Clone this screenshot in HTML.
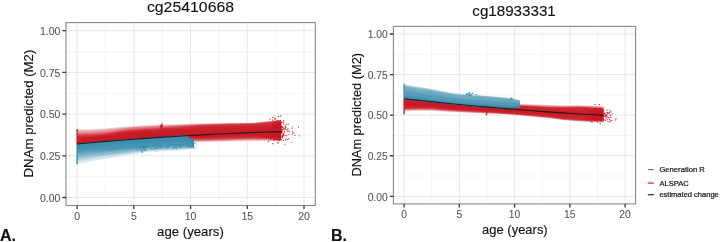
<!DOCTYPE html>
<html><head><meta charset="utf-8"><style>
html,body{margin:0;padding:0;background:#fff;}
body{width:720px;height:242px;overflow:hidden;}
svg{display:block;filter:blur(0.3px);}
text{font-family:"Liberation Sans",sans-serif;}
.tk{fill:#555;stroke:#555;stroke-width:0.08px;}
.ti{fill:#111;stroke:#111;stroke-width:0.12px;}
.lg{fill:#111;stroke:#111;stroke-width:0.2px;}
</style></head><body>
<svg width="720" height="242" viewBox="0 0 720 242">
<rect x="66" y="22.6" width="249.3" height="182.9" fill="#fff"/>
<path d="M105.46 22.6V205.5M162.19 22.6V205.5M218.91 22.6V205.5M275.64 22.6V205.5M66 176.65H315.3M66 134.95H315.3M66 93.25H315.3M66 51.55H315.3" stroke="#f2f2f2" stroke-width="0.8" fill="none"/>
<path d="M77.1 22.6V205.5M133.82 22.6V205.5M190.55 22.6V205.5M247.28 22.6V205.5M304 22.6V205.5M66 197.5H315.3M66 155.8H315.3M66 114.1H315.3M66 72.4H315.3M66 30.7H315.3" stroke="#e8e8e8" stroke-width="1" fill="none"/>
<rect x="393.4" y="26.4" width="242.2" height="177.5" fill="#fff"/>
<path d="M431.73 26.4V203.9M486.98 26.4V203.9M542.23 26.4V203.9M597.48 26.4V203.9M393.4 176.01H635.6M393.4 135.44H635.6M393.4 94.86H635.6M393.4 54.29H635.6" stroke="#f2f2f2" stroke-width="0.8" fill="none"/>
<path d="M404.1 26.4V203.9M459.35 26.4V203.9M514.6 26.4V203.9M569.85 26.4V203.9M625.1 26.4V203.9M393.4 196.3H635.6M393.4 155.73H635.6M393.4 115.15H635.6M393.4 74.58H635.6M393.4 34H635.6" stroke="#e8e8e8" stroke-width="1" fill="none"/>
<path d="M77.6 129.35 L91.16 128.99 L104.72 128.3 L118.28 127 L131.84 125.89 L145.4 125.03 L158.96 124.51 L172.52 124.15 L186.08 123.8 L199.64 123.49 L213.2 123.17 L226.76 122.86 L240.32 122.67 L253.88 122.49 L267.44 120.91 L281 119.55 L281 120.78 L267.44 122.14 L253.88 123.68 L240.32 123.87 L226.76 124.07 L213.2 124.41 L199.64 124.75 L186.08 125.18 L172.52 125.63 L158.96 126.08 L145.4 126.65 L131.84 127.53 L118.28 128.74 L104.72 130.17 L91.16 130.91 L77.6 131.28Z" fill="#f9e7e8"/>
<path d="M77.6 143.52 L91.16 142.3 L104.72 141.12 L118.28 140.01 L131.84 138.94 L145.4 137.94 L158.96 137.8 L172.52 138.79 L186.08 140.33 L199.64 140.5 L213.2 140.27 L226.76 140.04 L240.32 139.79 L253.88 139.54 L267.44 139.45 L281 140.05 L281 141.45 L267.44 141 L253.88 141.3 L240.32 141.53 L226.76 141.75 L213.2 141.93 L199.64 142.11 L186.08 141.89 L172.52 140.03 L158.96 138.8 L145.4 138.84 L131.84 139.84 L118.28 140.91 L104.72 142.02 L91.16 143.2 L77.6 144.42Z" fill="#f6d7d9"/>
<path d="M77.6 130.38 L91.16 130.01 L104.72 129.27 L118.28 127.84 L131.84 126.63 L145.4 125.75 L158.96 125.18 L172.52 124.73 L186.08 124.28 L199.64 123.85 L213.2 123.51 L226.76 123.17 L240.32 122.97 L253.88 122.78 L267.44 121.24 L281 119.88 L281 121.12 L267.44 122.47 L253.88 123.97 L240.32 124.18 L226.76 124.39 L213.2 124.75 L199.64 125.11 L186.08 125.66 L172.52 126.21 L158.96 126.76 L145.4 127.38 L131.84 128.27 L118.28 129.59 L104.72 131.14 L91.16 131.93 L77.6 132.32Z" fill="#f4cfd1"/>
<path d="M77.6 131.42 L91.16 131.03 L104.72 130.24 L118.28 128.69 L131.84 127.37 L145.4 126.48 L158.96 125.86 L172.52 125.31 L186.08 124.76 L199.64 124.21 L213.2 123.85 L226.76 123.49 L240.32 123.28 L253.88 123.07 L267.44 121.57 L281 120.22 L281 121.45 L267.44 122.81 L253.88 124.25 L240.32 124.48 L226.76 124.71 L213.2 125.09 L199.64 125.48 L186.08 126.14 L172.52 126.79 L158.96 127.43 L145.4 128.1 L131.84 129 L118.28 130.43 L104.72 132.11 L91.16 132.96 L77.6 133.35Z" fill="#edb2b5"/>
<path d="M77.6 143.52 L91.16 142.3 L104.72 141.12 L118.28 140.01 L131.84 138.94 L145.4 137.94 L158.96 137.7 L172.52 138.45 L186.08 139.68 L199.64 139.79 L213.2 139.51 L226.76 139.22 L240.32 138.95 L253.88 138.68 L267.44 138.8 L281 139.55 L281 140.95 L267.44 140.35 L253.88 140.44 L240.32 140.69 L226.76 140.94 L213.2 141.17 L199.64 141.4 L186.08 141.23 L172.52 139.69 L158.96 138.7 L145.4 138.84 L131.84 139.84 L118.28 140.91 L104.72 142.02 L91.16 143.2 L77.6 144.42Z" fill="#ecadb1"/>
<path d="M77.6 132.45 L91.16 132.06 L104.72 131.21 L118.28 129.53 L131.84 128.1 L145.4 127.2 L158.96 126.53 L172.52 125.89 L186.08 125.24 L199.64 124.58 L213.2 124.19 L226.76 123.81 L240.32 123.58 L253.88 123.35 L267.44 121.91 L281 120.55 L281 121.78 L267.44 123.14 L253.88 124.54 L240.32 124.78 L226.76 125.02 L213.2 125.43 L199.64 125.84 L186.08 126.62 L172.52 127.37 L158.96 128.11 L145.4 128.82 L131.84 129.74 L118.28 131.28 L104.72 133.09 L91.16 133.98 L77.6 134.38Z" fill="#e59197"/>
<path d="M77.6 143.52 L91.16 142.3 L104.72 141.12 L118.28 140.01 L131.84 138.94 L145.4 137.94 L158.96 137.6 L172.52 138.1 L186.08 139.02 L199.64 139.08 L213.2 138.75 L226.76 138.41 L240.32 138.11 L253.88 137.82 L267.44 138.15 L281 139.05 L281 140.45 L267.44 139.7 L253.88 139.58 L240.32 139.85 L226.76 140.12 L213.2 140.41 L199.64 140.69 L186.08 140.58 L172.52 139.35 L158.96 138.6 L145.4 138.84 L131.84 139.84 L118.28 140.91 L104.72 142.02 L91.16 143.2 L77.6 144.42Z" fill="#e3868b"/>
<path d="M77.6 133.48 L91.16 133.08 L104.72 132.19 L118.28 130.38 L131.84 128.84 L145.4 127.92 L158.96 127.21 L172.52 126.47 L186.08 125.72 L199.64 124.94 L213.2 124.53 L226.76 124.12 L240.32 123.88 L253.88 123.64 L267.44 122.24 L281 120.88 L281 122.12 L267.44 123.47 L253.88 124.83 L240.32 125.08 L226.76 125.34 L213.2 125.77 L199.64 126.2 L186.08 127.1 L172.52 127.95 L158.96 128.78 L145.4 129.54 L131.84 130.47 L118.28 132.13 L104.72 134.06 L91.16 135 L77.6 135.42Z" fill="#de7379"/>
<path d="M77.6 143.52 L91.16 142.3 L104.72 141.12 L118.28 140.01 L131.84 138.94 L145.4 137.94 L158.96 137.5 L172.52 137.76 L186.08 138.36 L199.64 138.37 L213.2 137.98 L226.76 137.59 L240.32 137.27 L253.88 136.96 L267.44 137.5 L281 138.55 L281 139.95 L267.44 139.05 L253.88 138.72 L240.32 139.01 L226.76 139.31 L213.2 139.64 L199.64 139.98 L186.08 139.92 L172.52 139 L158.96 138.5 L145.4 138.84 L131.84 139.84 L118.28 140.91 L104.72 142.02 L91.16 143.2 L77.6 144.42Z" fill="#d95e66"/>
<path d="M77.6 134.52 L91.16 134.1 L104.72 133.16 L118.28 131.23 L131.84 129.57 L145.4 128.64 L158.96 127.88 L172.52 127.05 L186.08 126.2 L199.64 125.3 L213.2 124.87 L226.76 124.44 L240.32 124.18 L253.88 123.93 L267.44 122.57 L281 121.22 L281 122.45 L267.44 123.81 L253.88 125.11 L240.32 125.38 L226.76 125.66 L213.2 126.11 L199.64 126.56 L186.08 127.58 L172.52 128.53 L158.96 129.45 L145.4 130.26 L131.84 131.21 L118.28 132.97 L104.72 135.03 L91.16 136.03 L77.6 136.45Z" fill="#d7545c"/>
<path d="M77.6 143.52 L91.16 142.3 L104.72 141.12 L118.28 140.01 L131.84 138.94 L145.4 137.94 L158.96 137.4 L172.52 137.42 L186.08 137.71 L199.64 137.66 L213.2 137.22 L226.76 136.77 L240.32 136.43 L253.88 136.09 L267.44 136.84 L281 138.05 L281 139.45 L267.44 138.4 L253.88 137.86 L240.32 138.17 L226.76 138.49 L213.2 138.88 L199.64 139.27 L186.08 139.26 L172.52 138.66 L158.96 138.4 L145.4 138.84 L131.84 139.84 L118.28 140.91 L104.72 142.02 L91.16 143.2 L77.6 144.42Z" fill="#d3434c"/>
<path d="M77.6 135.55 L91.16 135.13 L104.72 134.13 L118.28 132.07 L131.84 130.31 L145.4 129.36 L158.96 128.55 L172.52 127.63 L186.08 126.68 L199.64 125.66 L213.2 125.21 L226.76 124.76 L240.32 124.48 L253.88 124.21 L267.44 122.91 L281 121.55 L281 123.78 L267.44 124.91 L253.88 126.03 L240.32 126.31 L226.76 126.59 L213.2 127.05 L199.64 127.5 L186.08 128.45 L172.52 129.31 L158.96 130.18 L145.4 130.98 L131.84 131.93 L118.28 133.63 L104.72 135.62 L91.16 136.62 L77.6 137.11Z" fill="#d03740"/>
<path d="M77.6 136.21 L91.16 135.72 L104.72 134.72 L118.28 132.73 L131.84 131.03 L145.4 130.08 L158.96 129.28 L172.52 128.41 L186.08 127.55 L199.64 126.6 L213.2 126.15 L226.76 125.69 L240.32 125.41 L253.88 125.13 L267.44 124.01 L281 122.88 L281 125.12 L267.44 126.02 L253.88 126.95 L240.32 127.24 L226.76 127.52 L213.2 127.98 L199.64 128.44 L186.08 129.31 L172.52 130.1 L158.96 130.91 L145.4 131.69 L131.84 132.65 L118.28 134.3 L104.72 136.2 L91.16 137.22 L77.6 137.78Z" fill="#ce2c36"/>
<path d="M77.6 143.52 L91.16 142.3 L104.72 141.12 L118.28 140.01 L131.84 138.94 L145.4 137.94 L158.96 137.3 L172.52 137.08 L186.08 137.05 L199.64 136.95 L213.2 136.46 L226.76 135.96 L240.32 135.59 L253.88 135.23 L267.44 136.19 L281 137.55 L281 138.95 L267.44 137.74 L253.88 136.99 L240.32 137.33 L226.76 137.67 L213.2 138.12 L199.64 138.56 L186.08 138.61 L172.52 138.32 L158.96 138.3 L145.4 138.84 L131.84 139.84 L118.28 140.91 L104.72 142.02 L91.16 143.2 L77.6 144.42Z" fill="#cd2832"/>
<path d="M77.6 136.88 L91.16 136.32 L104.72 135.3 L118.28 133.4 L131.84 131.75 L145.4 130.79 L158.96 130.01 L172.52 129.2 L186.08 128.41 L199.64 127.54 L213.2 127.08 L226.76 126.62 L240.32 126.34 L253.88 126.05 L267.44 125.12 L281 124.22 L281 126.45 L267.44 127.13 L253.88 127.87 L240.32 128.16 L226.76 128.46 L213.2 128.92 L199.64 129.38 L186.08 130.18 L172.52 130.89 L158.96 131.64 L145.4 132.41 L131.84 133.37 L118.28 134.96 L104.72 136.78 L91.16 137.82 L77.6 138.44Z" fill="#cd2732"/>
<path d="M77.6 137.54 L91.16 136.92 L104.72 135.88 L118.28 134.06 L131.84 132.47 L145.4 131.51 L158.96 130.74 L172.52 129.99 L186.08 129.28 L199.64 128.48 L213.2 128.02 L226.76 127.56 L240.32 127.26 L253.88 126.97 L267.44 126.23 L281 125.55 L281 127.78 L267.44 128.24 L253.88 128.79 L240.32 129.09 L226.76 129.39 L213.2 129.86 L199.64 130.33 L186.08 131.04 L172.52 131.68 L158.96 132.37 L145.4 133.12 L131.84 134.09 L118.28 135.62 L104.72 137.36 L91.16 138.42 L77.6 139.11Z" fill="#cb232d"/>
<path d="M77.6 138.21 L91.16 137.52 L104.72 136.46 L118.28 134.72 L131.84 133.19 L145.4 132.22 L158.96 131.47 L172.52 130.78 L186.08 130.14 L199.64 129.43 L213.2 128.96 L226.76 128.49 L240.32 128.19 L253.88 127.89 L267.44 127.34 L281 126.88 L281 129.12 L267.44 129.34 L253.88 129.7 L240.32 130.01 L226.76 130.32 L213.2 130.8 L199.64 131.27 L186.08 131.9 L172.52 132.47 L158.96 133.1 L145.4 133.84 L131.84 134.81 L118.28 136.28 L104.72 137.95 L91.16 139.02 L77.6 139.77Z" fill="#cb202b"/>
<path d="M77.6 138.87 L91.16 138.12 L104.72 137.05 L118.28 135.38 L131.84 133.91 L145.4 132.94 L158.96 132.2 L172.52 131.57 L186.08 131 L199.64 130.37 L213.2 129.9 L226.76 129.43 L240.32 129.11 L253.88 128.8 L267.44 128.44 L281 128.22 L281 130.45 L267.44 130.45 L253.88 130.62 L240.32 130.94 L226.76 131.26 L213.2 131.73 L199.64 132.21 L186.08 132.77 L172.52 133.25 L158.96 133.83 L145.4 134.55 L131.84 135.53 L118.28 136.94 L104.72 138.53 L91.16 139.61 L77.6 140.43Z" fill="#ca1e29"/>
<path d="M77.6 139.53 L91.16 138.71 L104.72 137.63 L118.28 136.04 L131.84 134.63 L145.4 133.65 L158.96 132.93 L172.52 132.35 L186.08 131.87 L199.64 131.31 L213.2 130.83 L226.76 130.36 L240.32 130.04 L253.88 129.72 L267.44 129.55 L281 129.55 L281 131.78 L267.44 131.56 L253.88 131.54 L240.32 131.87 L226.76 132.19 L213.2 132.67 L199.64 133.15 L186.08 133.63 L172.52 134.04 L158.96 134.56 L145.4 135.27 L131.84 136.25 L118.28 137.6 L104.72 139.11 L91.16 140.21 L77.6 141.1Z" fill="#ca1d28"/>
<path d="M77.6 140.2 L91.16 139.31 L104.72 138.21 L118.28 136.7 L131.84 135.35 L145.4 134.37 L158.96 133.66 L172.52 133.14 L186.08 132.73 L199.64 132.25 L213.2 131.77 L226.76 131.29 L240.32 130.97 L253.88 130.64 L267.44 130.66 L281 130.88 L281 133.12 L267.44 132.66 L253.88 132.46 L240.32 132.79 L226.76 133.13 L213.2 133.61 L199.64 134.09 L186.08 134.5 L172.52 134.83 L158.96 135.29 L145.4 135.98 L131.84 136.97 L118.28 138.27 L104.72 139.69 L91.16 140.81 L77.6 141.76Z" fill="#ca1d27"/>
<path d="M77.6 140.86 L91.16 139.91 L104.72 138.79 L118.28 137.37 L131.84 136.07 L145.4 135.08 L158.96 134.39 L172.52 133.93 L186.08 133.6 L199.64 133.19 L213.2 132.71 L226.76 132.23 L240.32 131.89 L253.88 131.56 L267.44 131.76 L281 132.22 L281 134.45 L267.44 133.77 L253.88 133.38 L240.32 133.72 L226.76 134.06 L213.2 134.54 L199.64 135.03 L186.08 135.36 L172.52 135.62 L158.96 136.02 L145.4 136.7 L131.84 137.68 L118.28 138.93 L104.72 140.28 L91.16 141.41 L77.6 142.42Z" fill="#ca1c27"/>
<path d="M77.6 141.52 L91.16 140.51 L104.72 139.38 L118.28 138.03 L131.84 136.78 L145.4 135.8 L158.96 135.12 L172.52 134.72 L186.08 134.46 L199.64 134.13 L213.2 133.64 L226.76 133.16 L240.32 132.82 L253.88 132.48 L267.44 132.87 L281 133.55 L281 135.78 L267.44 134.88 L253.88 134.3 L240.32 134.64 L226.76 134.99 L213.2 135.48 L199.64 135.97 L186.08 136.23 L172.52 136.41 L158.96 136.75 L145.4 137.41 L131.84 138.4 L118.28 139.59 L104.72 140.86 L91.16 142.01 L77.6 143.09Z" fill="#ca1c27"/>
<path d="M77.6 142.19 L91.16 141.11 L104.72 139.96 L118.28 138.69 L131.84 137.5 L145.4 136.51 L158.96 135.85 L172.52 135.51 L186.08 135.33 L199.64 135.07 L213.2 134.58 L226.76 134.09 L240.32 133.74 L253.88 133.4 L267.44 133.98 L281 134.88 L281 137.12 L267.44 135.99 L253.88 135.21 L240.32 135.57 L226.76 135.93 L213.2 136.42 L199.64 136.91 L186.08 137.09 L172.52 137.19 L158.96 137.47 L145.4 138.13 L131.84 139.12 L118.28 140.25 L104.72 141.44 L91.16 142.6 L77.6 143.75Z" fill="#ca1c26"/>
<path d="M77.6 142.85 L91.16 141.7 L104.72 140.54 L118.28 139.35 L131.84 138.22 L145.4 137.23 L158.96 136.57 L172.52 136.29 L186.08 136.19 L199.64 136.01 L213.2 135.52 L226.76 135.03 L240.32 134.67 L253.88 134.31 L267.44 135.09 L281 136.22 L281 138.45 L267.44 137.09 L253.88 136.13 L240.32 136.49 L226.76 136.86 L213.2 137.36 L199.64 137.85 L186.08 137.95 L172.52 137.98 L158.96 138.2 L145.4 138.84 L131.84 139.84 L118.28 140.91 L104.72 142.02 L91.16 143.2 L77.6 144.42Z" fill="#ca1b26"/>
<path d="M77.6 130.46 91.16 130.42 104.72 130 118.28 128.81 131.84 127.77 145.4 127.12 158.96 126.71 172.52 126.3 186.08 125.81 199.64 125.23 213.2 124.95 226.76 124.65 240.32 124.5 253.88 124.34 267.44 123.09 281 121.84M77.6 142.21 91.16 141.1 104.72 139.89 118.28 138.47 131.84 137.14 145.4 136.06 158.96 135.29 172.52 134.77 186.08 134.37 199.64 133.88 213.2 133.28 226.76 132.68 240.32 132.23 253.88 131.79 267.44 131.82 281 132.02M77.6 134.45 91.16 133.91 104.72 132.88 118.28 130.93 131.84 129.28 145.4 128.27 158.96 127.48 172.52 126.7 186.08 125.93 199.64 125.16 213.2 124.72 226.76 124.29 240.32 124.02 253.88 123.76 267.44 122.27 281 120.87M77.6 131.65 91.16 131.26 104.72 130.46 118.28 128.93 131.84 127.62 145.4 126.73 158.96 126.11 172.52 125.59 186.08 125.06 199.64 124.54 213.2 124.18 226.76 123.83 240.32 123.61 253.88 123.41 267.44 121.89 281 120.53M77.6 143.97 91.16 142.75 104.72 141.57 118.28 140.46 131.84 139.39 145.4 138.39 158.96 138.29 172.52 139.23 186.08 140.48 199.64 140.31 213.2 139.69 226.76 139.03 240.32 138.36 253.88 137.68 267.44 137.87 281 138.72M77.6 138.01 91.16 137.37 104.72 136.32 118.28 134.48 131.84 132.87 145.4 131.9 158.96 131.11 172.52 130.34 186.08 129.59 199.64 128.77 213.2 128.28 226.76 127.8 240.32 127.48 253.88 127.17 267.44 126.35 281 125.58M77.6 142.74 91.16 141.63 104.72 140.46 118.28 139.18 131.84 137.97 145.4 136.96 158.96 136.26 172.52 135.9 186.08 135.68 199.64 135.39 213.2 134.87 226.76 134.35 240.32 133.97 253.88 133.6 267.44 134.09 281 134.88M77.6 132.36 91.16 132.09 104.72 131.37 118.28 129.82 131.84 128.49 145.4 127.67 158.96 127.08 172.52 126.49 186.08 125.87 199.64 125.2 213.2 124.84 226.76 124.48 240.32 124.27 253.88 124.07 267.44 122.7 281 121.38M77.6 142.94 91.16 141.8 104.72 140.62 118.28 139.34 131.84 138.14 145.4 137.11 158.96 136.41 172.52 136.04 186.08 135.83 199.64 135.54 213.2 135 226.76 134.47 240.32 134.07 253.88 133.68 267.44 134.18 281 134.97M77.6 143.97 91.16 142.75 104.72 141.57 118.28 140.46 131.84 139.39 145.4 138.39 158.96 137.89 172.52 138.05 186.08 138.61 199.64 138.72 213.2 138.44 226.76 138.19 240.32 138.01 253.88 137.84 267.44 138.38 281 139.42M77.6 143.97 91.16 142.75 104.72 141.57 118.28 140.46 131.84 139.39 145.4 138.39 158.96 138.35 172.52 139.48 186.08 141.02 199.64 140.95 213.2 140.44 226.76 139.89 240.32 139.32 253.88 138.74 267.44 138.71 281 139.41M77.6 141.64 91.16 140.56 104.72 139.35 118.28 137.83 131.84 136.41 145.4 135.31 158.96 134.49 172.52 133.88 186.08 133.36 199.64 132.74 213.2 132.11 226.76 131.49 240.32 131.01 253.88 130.54 267.44 130.27 281 130.11M77.6 138.62 91.16 137.82 104.72 136.65 118.28 134.74 131.84 133.03 145.4 131.93 158.96 131.02 172.52 130.11 186.08 129.19 199.64 128.17 213.2 127.53 226.76 126.88 240.32 126.41 253.88 125.95 267.44 124.69 281 123.35M77.6 137.19 91.16 136.48 104.72 135.29 118.28 133.14 131.84 131.23 145.4 130.07 158.96 129.06 172.52 127.96 186.08 126.9 199.64 125.83 213.2 125.3 226.76 124.78 240.32 124.44 253.88 124.11 267.44 122.62 281 121.17M77.6 143.97 91.16 142.75 104.72 141.57 118.28 140.46 131.84 139.39 145.4 138.39 158.96 138.03 172.52 138.49 186.08 139.35 199.64 139.41 213.2 139.07 226.76 138.73 240.32 138.44 253.88 138.15 267.44 138.51 281 139.44M77.6 139.74 91.16 138.91 104.72 137.8 118.28 136.14 131.84 134.65 145.4 133.64 158.96 132.86 172.52 132.2 186.08 131.61 199.64 130.94 213.2 130.41 226.76 129.89 240.32 129.52 253.88 129.16 267.44 128.72 281 128.39M77.6 131.15 91.16 130.86 104.72 130.19 118.28 128.78 131.84 127.57 145.4 126.76 158.96 126.21 172.52 125.73 186.08 125.23 199.64 124.71 213.2 124.38 226.76 124.04 240.32 123.85 253.88 123.66 267.44 122.22 281 120.9M77.6 139.23 91.16 138.44 104.72 137.33 118.28 135.59 131.84 134.05 145.4 133.03 158.96 132.23 172.52 131.51 186.08 130.83 199.64 130.07 213.2 129.54 226.76 129 240.32 128.63 253.88 128.27 267.44 127.62 281 127.04M77.6 141.5 91.16 140.68 104.72 139.7 118.28 138.5 131.84 137.44 145.4 136.63 158.96 136.14 172.52 135.98 186.08 136.02 199.64 136.03 213.2 135.77 226.76 135.51 240.32 135.38 253.88 135.26 267.44 136.41 281 138.02M77.6 143.97 91.16 142.75 104.72 141.57 118.28 140.46 131.84 139.39 145.4 138.39 158.96 138.14 172.52 138.8 186.08 139.82 199.64 139.78 213.2 139.31 226.76 138.82 240.32 138.36 253.88 137.89 267.44 138.18 281 139.09M77.6 130.16 91.16 129.85 104.72 129.2 118.28 127.89 131.84 126.78 145.4 125.95 158.96 125.44 172.52 125.05 186.08 124.65 199.64 124.26 213.2 123.94 226.76 123.62 240.32 123.44 253.88 123.26 267.44 121.75 281 120.41M77.6 139.06 91.16 138.15 104.72 136.91 118.28 134.96 131.84 133.19 145.4 132.01 158.96 131.02 172.52 130.01 186.08 128.99 199.64 127.84 213.2 127.09 226.76 126.35 240.32 125.78 253.88 125.22 267.44 123.68 281 122M77.6 143.97 91.16 142.75 104.72 141.57 118.28 140.46 131.84 139.39 145.4 138.39 158.96 138.16 172.52 138.84 186.08 139.89 199.64 139.85 213.2 139.38 226.76 138.89 240.32 138.43 253.88 137.96 267.44 138.23 281 139.12M77.6 137.27 91.16 136.74 104.72 135.73 118.28 133.85 131.84 132.23 145.4 131.29 158.96 130.53 172.52 129.75 186.08 129 199.64 128.17 213.2 127.74 226.76 127.31 240.32 127.04 253.88 126.78 267.44 125.95 281 125.16M77.6 135.14 91.16 134.54 104.72 133.43 118.28 131.37 131.84 129.62 145.4 128.57 158.96 127.72 172.52 126.88 186.08 126.05 199.64 125.23 213.2 124.77 226.76 124.33 240.32 124.04 253.88 123.76 267.44 122.25 281 120.84" stroke="#c8141f" stroke-opacity="0.12" stroke-width="0.7" fill="none"/>
<path d="M77.6 160.97 L85.36 159.64 L93.12 158.31 L100.88 157.02 L108.64 155.98 L116.4 154.95 L124.16 153.91 L131.92 152.78 L139.68 151.63 L147.44 150.48 L155.2 149.89 L162.96 149.59 L170.72 149.28 L178.48 148.98 L186.24 148.28 L194 147.72 L194 148.95 L186.24 149.92 L178.48 150.72 L170.72 151.05 L162.96 151.39 L155.2 151.72 L147.44 152.36 L139.68 153.6 L131.92 154.84 L124.16 156.07 L116.4 157.22 L108.64 158.37 L100.88 159.52 L93.12 160.97 L85.36 162.46 L77.6 163.95Z" fill="#e6f0f4"/>
<path d="M77.6 158.88 L85.36 157.72 L93.12 156.55 L100.88 155.41 L108.64 154.49 L116.4 153.57 L124.16 152.65 L131.92 151.61 L139.68 150.55 L147.44 149.5 L155.2 148.97 L162.96 148.69 L170.72 148.41 L178.48 148.14 L186.24 147.54 L194 147.38 L194 148.62 L186.24 149.18 L178.48 149.88 L170.72 150.18 L162.96 150.49 L155.2 150.79 L147.44 151.38 L139.68 152.53 L131.92 153.68 L124.16 154.81 L116.4 155.85 L108.64 156.88 L100.88 157.92 L93.12 159.21 L85.36 160.54 L77.6 161.87Z" fill="#cae0e8"/>
<path d="M77.6 156.8 L85.36 155.8 L93.12 154.79 L100.88 153.81 L108.64 153 L116.4 152.19 L124.16 151.39 L131.92 150.44 L139.68 149.48 L147.44 148.52 L155.2 148.04 L162.96 147.79 L170.72 147.54 L178.48 147.3 L186.24 146.79 L194 147.05 L194 148.28 L186.24 148.44 L178.48 149.04 L170.72 149.31 L162.96 149.59 L155.2 149.87 L147.44 150.4 L139.68 151.45 L131.92 152.51 L124.16 153.55 L116.4 154.47 L108.64 155.39 L100.88 156.31 L93.12 157.45 L85.36 158.62 L77.6 159.78Z" fill="#accedc"/>
<path d="M77.6 154.72 L85.36 153.87 L93.12 153.03 L100.88 152.2 L108.64 151.51 L116.4 150.82 L124.16 150.13 L131.92 149.27 L139.68 148.41 L147.44 147.54 L155.2 147.11 L162.96 146.89 L170.72 146.67 L178.48 146.46 L186.24 146.05 L194 146.72 L194 147.95 L186.24 147.69 L178.48 148.2 L170.72 148.44 L162.96 148.69 L155.2 148.94 L147.44 149.42 L139.68 150.38 L131.92 151.34 L124.16 152.29 L116.4 153.09 L108.64 153.9 L100.88 154.71 L93.12 155.69 L85.36 156.7 L77.6 157.7Z" fill="#8dbdcf"/>
<path d="M77.6 152.63 L85.36 151.95 L93.12 151.27 L100.88 150.6 L108.64 150.02 L116.4 149.44 L124.16 148.86 L131.92 148.11 L139.68 147.33 L147.44 146.56 L155.2 146.18 L162.96 145.99 L170.72 145.81 L178.48 145.62 L186.24 145.31 L194 146.38 L194 147.62 L186.24 146.95 L178.48 147.36 L170.72 147.57 L162.96 147.79 L155.2 148.01 L147.44 148.44 L139.68 149.31 L131.92 150.17 L124.16 151.03 L116.4 151.72 L108.64 152.41 L100.88 153.1 L93.12 153.93 L85.36 154.77 L77.6 155.62Z" fill="#76afc5"/>
<path d="M77.6 150.55 L85.36 150.03 L93.12 149.51 L100.88 149 L108.64 148.53 L116.4 148.07 L124.16 147.6 L131.92 146.94 L139.68 146.26 L147.44 145.58 L155.2 145.25 L162.96 145.09 L170.72 144.94 L178.48 144.78 L186.24 144.57 L194 146.05 L194 147.28 L186.24 146.21 L178.48 146.52 L170.72 146.71 L162.96 146.89 L155.2 147.08 L147.44 147.46 L139.68 148.23 L131.92 149.01 L124.16 149.76 L116.4 150.34 L108.64 150.92 L100.88 151.5 L93.12 152.17 L85.36 152.85 L77.6 153.53Z" fill="#5fa2bc"/>
<path d="M77.6 149.96 L85.36 149.43 L93.12 148.9 L100.88 148.37 L108.64 147.89 L116.4 147.41 L124.16 146.93 L131.92 146.28 L139.68 145.6 L147.44 144.93 L155.2 144.58 L162.96 144.4 L170.72 144.21 L178.48 144.03 L186.24 143.8 L194 145.62 L194 146.95 L186.24 145.47 L178.48 145.68 L170.72 145.84 L162.96 145.99 L155.2 146.15 L147.44 146.48 L139.68 147.16 L131.92 147.84 L124.16 148.5 L116.4 148.97 L108.64 149.43 L100.88 149.9 L93.12 150.41 L85.36 150.93 L77.6 151.45Z" fill="#539bb6"/>
<path d="M77.6 149.38 L85.36 148.83 L93.12 148.28 L100.88 147.74 L108.64 147.24 L116.4 146.75 L124.16 146.26 L131.92 145.61 L139.68 144.94 L147.44 144.28 L155.2 143.92 L162.96 143.7 L170.72 143.49 L178.48 143.28 L186.24 143.03 L194 145.18 L194 146.52 L186.24 144.7 L178.48 144.93 L170.72 145.11 L162.96 145.3 L155.2 145.48 L147.44 145.83 L139.68 146.5 L131.92 147.18 L124.16 147.83 L116.4 148.31 L108.64 148.79 L100.88 149.27 L93.12 149.8 L85.36 150.33 L77.6 150.86Z" fill="#5099b5"/>
<path d="M77.6 148.79 L85.36 148.23 L93.12 147.66 L100.88 147.11 L108.64 146.6 L116.4 146.09 L124.16 145.58 L131.92 144.94 L139.68 144.29 L147.44 143.63 L155.2 143.25 L162.96 143.01 L170.72 142.77 L178.48 142.52 L186.24 142.27 L194 144.75 L194 146.08 L186.24 143.93 L178.48 144.18 L170.72 144.39 L162.96 144.6 L155.2 144.82 L147.44 145.18 L139.68 145.84 L131.92 146.51 L124.16 147.16 L116.4 147.65 L108.64 148.14 L100.88 148.64 L93.12 149.18 L85.36 149.73 L77.6 150.28Z" fill="#4d98b4"/>
<path d="M77.6 148.21 L85.36 147.63 L93.12 147.05 L100.88 146.48 L108.64 145.96 L116.4 145.43 L124.16 144.91 L131.92 144.28 L139.68 143.63 L147.44 142.98 L155.2 142.59 L162.96 142.32 L170.72 142.04 L178.48 141.77 L186.24 141.5 L194 144.31 L194 145.65 L186.24 143.17 L178.48 143.42 L170.72 143.67 L162.96 143.91 L155.2 144.15 L147.44 144.53 L139.68 145.19 L131.92 145.84 L124.16 146.48 L116.4 146.99 L108.64 147.5 L100.88 148.01 L93.12 148.56 L85.36 149.13 L77.6 149.69Z" fill="#4b96b3"/>
<path d="M77.6 147.62 L85.36 147.03 L93.12 146.43 L100.88 145.85 L108.64 145.31 L116.4 144.78 L124.16 144.24 L131.92 143.61 L139.68 142.97 L147.44 142.34 L155.2 141.92 L162.96 141.62 L170.72 141.32 L178.48 141.02 L186.24 140.74 L194 143.88 L194 145.21 L186.24 142.4 L178.48 142.67 L170.72 142.94 L162.96 143.22 L155.2 143.49 L147.44 143.88 L139.68 144.53 L131.92 145.18 L124.16 145.81 L116.4 146.33 L108.64 146.86 L100.88 147.38 L93.12 147.95 L85.36 148.53 L77.6 149.11Z" fill="#4895b2"/>
<path d="M77.6 147.03 L85.36 146.43 L93.12 145.82 L100.88 145.22 L108.64 144.67 L116.4 144.12 L124.16 143.57 L131.92 142.95 L139.68 142.32 L147.44 141.69 L155.2 141.26 L162.96 140.93 L170.72 140.6 L178.48 140.27 L186.24 139.97 L194 143.44 L194 144.78 L186.24 141.64 L178.48 141.92 L170.72 142.22 L162.96 142.52 L155.2 142.82 L147.44 143.24 L139.68 143.87 L131.92 144.51 L124.16 145.14 L116.4 145.68 L108.64 146.21 L100.88 146.75 L93.12 147.33 L85.36 147.93 L77.6 148.52Z" fill="#4593b1"/>
<path d="M77.6 146.45 L85.36 145.83 L93.12 145.2 L100.88 144.59 L108.64 144.02 L116.4 143.46 L124.16 142.89 L131.92 142.28 L139.68 141.66 L147.44 141.04 L155.2 140.59 L162.96 140.24 L170.72 139.88 L178.48 139.52 L186.24 139.21 L194 143.01 L194 144.34 L186.24 140.87 L178.48 141.17 L170.72 141.5 L162.96 141.83 L155.2 142.16 L147.44 142.59 L139.68 143.22 L131.92 143.85 L124.16 144.47 L116.4 145.02 L108.64 145.57 L100.88 146.12 L93.12 146.72 L85.36 147.33 L77.6 147.93Z" fill="#4492b0"/>
<path d="M77.6 145.86 L85.36 145.22 L93.12 144.59 L100.88 143.96 L108.64 143.38 L116.4 142.8 L124.16 142.22 L131.92 141.61 L139.68 141 L147.44 140.39 L155.2 139.93 L162.96 139.54 L170.72 139.15 L178.48 138.76 L186.24 138.44 L194 142.58 L194 143.91 L186.24 140.11 L178.48 140.42 L170.72 140.78 L162.96 141.14 L155.2 141.49 L147.44 141.94 L139.68 142.56 L131.92 143.18 L124.16 143.79 L116.4 144.36 L108.64 144.92 L100.88 145.49 L93.12 146.1 L85.36 146.73 L77.6 147.35Z" fill="#4392b0"/>
<path d="M77.6 145.27 L85.36 144.62 L93.12 143.97 L100.88 143.33 L108.64 142.74 L116.4 142.14 L124.16 141.55 L131.92 140.95 L139.68 140.35 L147.44 139.75 L155.2 139.27 L162.96 138.85 L170.72 138.43 L178.48 138.01 L186.24 137.67 L194 142.14 L194 143.48 L186.24 139.34 L178.48 139.66 L170.72 140.05 L162.96 140.44 L155.2 140.83 L147.44 141.29 L139.68 141.9 L131.92 142.51 L124.16 143.12 L116.4 143.7 L108.64 144.28 L100.88 144.86 L93.12 145.49 L85.36 146.12 L77.6 146.76Z" fill="#4291af"/>
<path d="M77.6 144.69 L85.36 144.02 L93.12 143.36 L100.88 142.7 L108.64 142.09 L116.4 141.48 L124.16 140.88 L131.92 140.28 L139.68 139.69 L147.44 139.1 L155.2 138.6 L162.96 138.15 L170.72 137.71 L178.48 137.26 L186.24 136.91 L194 141.71 L194 143.04 L186.24 138.57 L178.48 138.91 L170.72 139.33 L162.96 139.75 L155.2 140.17 L147.44 140.65 L139.68 141.25 L131.92 141.85 L124.16 142.45 L116.4 143.04 L108.64 143.64 L100.88 144.23 L93.12 144.87 L85.36 145.52 L77.6 146.17Z" fill="#4291af"/>
<path d="M77.6 144.1 L85.36 143.42 L93.12 142.74 L100.88 142.07 L108.64 141.45 L116.4 140.83 L124.16 140.2 L131.92 139.62 L139.68 139.03 L147.44 138.45 L155.2 137.94 L162.96 137.46 L170.72 136.98 L178.48 136.51 L186.24 136.14 L194 141.27 L194 142.61 L186.24 137.81 L178.48 138.16 L170.72 138.61 L162.96 139.05 L155.2 139.5 L147.44 140 L139.68 140.59 L131.92 141.18 L124.16 141.78 L116.4 142.38 L108.64 142.99 L100.88 143.6 L93.12 144.26 L85.36 144.92 L77.6 145.59Z" fill="#4190af"/>
<path d="M77.6 143.52 L85.36 142.82 L93.12 142.13 L100.88 141.44 L108.64 140.8 L116.4 140.17 L124.16 139.53 L131.92 138.95 L139.68 138.38 L147.44 137.8 L155.2 137.27 L162.96 136.77 L170.72 136.26 L178.48 135.75 L186.24 135.38 L194 140.84 L194 142.17 L186.24 137.04 L178.48 137.41 L170.72 137.88 L162.96 138.36 L155.2 138.84 L147.44 139.35 L139.68 139.93 L131.92 140.52 L124.16 141.1 L116.4 141.73 L108.64 142.35 L100.88 142.97 L93.12 143.64 L85.36 144.32 L77.6 145Z" fill="#4090ae"/>
<path d="M77.6 146.05 85.36 145.52 93.12 145.01 100.88 144.5 108.64 144.05 116.4 143.61 124.16 143.17 131.92 142.69 139.68 142.2 147.44 141.7 155.2 141.39 162.96 141.19 170.72 140.99 178.48 140.81 186.24 140.66 194 144.12M77.6 143.97 85.36 143.27 93.12 142.58 100.88 141.89 108.64 141.25 116.4 140.62 124.16 139.98 131.92 139.4 139.68 138.83 147.44 138.25 155.2 137.72 162.96 137.22 170.72 136.71 178.48 136.2 186.24 135.83 194 141.29M77.6 160.79 85.36 158.9 93.12 157.11 100.88 155.45 108.64 154.08 116.4 152.78 124.16 151.56 131.92 150.26 139.68 149.01 147.44 147.81 155.2 147.09 162.96 146.6 170.72 146.14 178.48 145.69 186.24 145.18 194 146.46M77.6 144.16 85.36 143.55 93.12 142.95 100.88 142.37 108.64 141.83 116.4 141.31 124.16 140.78 131.92 140.29 139.68 139.8 147.44 139.3 155.2 138.9 162.96 138.55 170.72 138.2 178.48 137.86 186.24 137.63 194 142.37M77.6 143.97 85.36 143.27 93.12 142.58 100.88 141.89 108.64 141.25 116.4 140.62 124.16 139.98 131.92 139.4 139.68 138.83 147.44 138.25 155.2 137.72 162.96 137.22 170.72 136.71 178.48 136.2 186.24 135.83 194 141.29M77.6 143.97 85.36 143.27 93.12 142.58 100.88 141.89 108.64 141.25 116.4 140.62 124.16 139.98 131.92 139.4 139.68 138.83 147.44 138.25 155.2 137.72 162.96 137.22 170.72 136.71 178.48 136.2 186.24 135.83 194 141.29M77.6 147.03 85.36 146.41 93.12 145.79 100.88 145.17 108.64 144.61 116.4 144.04 124.16 143.48 131.92 142.86 139.68 142.23 147.44 141.61 155.2 141.16 162.96 140.81 170.72 140.45 178.48 140.09 186.24 139.78 194 143.53M77.6 149.74 85.36 149.34 93.12 148.95 100.88 148.57 108.64 148.25 116.4 147.93 124.16 147.62 131.92 147.14 139.68 146.62 147.44 146.14 155.2 146.04 162.96 146.1 170.72 146.15 178.48 146.17 186.24 146.04 194 147.04M77.6 143.97 85.36 143.27 93.12 142.58 100.88 141.89 108.64 141.25 116.4 140.62 124.16 139.98 131.92 139.4 139.68 138.83 147.44 138.25 155.2 137.72 162.96 137.22 170.72 136.71 178.48 136.2 186.24 135.83 194 141.29M77.6 156.44 85.36 155.73 93.12 154.97 100.88 154.2 108.64 153.58 116.4 152.92 124.16 152.24 131.92 151.4 139.68 150.53 147.44 149.63 155.2 149.22 162.96 149.06 170.72 148.89 178.48 148.71 186.24 148.19 194 147.96M77.6 150.63 85.36 150.26 93.12 149.89 100.88 149.69 108.64 149.59 116.4 149.44 124.16 149.23 131.92 148.78 139.68 148.27 147.44 147.71 155.2 147.53 162.96 147.55 170.72 147.56 178.48 147.54 186.24 147.26 194 147.59M77.6 143.97 85.36 143.27 93.12 142.58 100.88 141.89 108.64 141.25 116.4 140.62 124.16 139.98 131.92 139.4 139.68 138.83 147.44 138.25 155.2 137.72 162.96 137.22 170.72 136.71 178.48 136.2 186.24 135.83 194 141.29M77.6 143.97 85.36 143.27 93.12 142.58 100.88 141.89 108.64 141.25 116.4 140.8 124.16 140.37 131.92 139.99 139.68 139.6 147.44 139.21 155.2 138.91 162.96 138.67 170.72 138.44 178.48 138.23 186.24 138.12 194 142.72M77.6 149.05 85.36 148.25 93.12 147.45 100.88 146.64 108.64 145.86 116.4 145.08 124.16 144.29 131.92 143.41 139.68 142.54 147.44 141.67 155.2 140.97 162.96 140.35 170.72 139.7 178.48 139.03 186.24 138.42 194 142.59M77.6 143.97 85.36 143.27 93.12 142.58 100.88 141.89 108.64 141.25 116.4 140.62 124.16 139.98 131.92 139.4 139.68 138.83 147.44 138.25 155.2 137.72 162.96 137.22 170.72 136.71 178.48 136.2 186.24 135.83 194 141.31M77.6 145.14 85.36 144.33 93.12 143.51 100.88 142.7 108.64 141.92 116.4 141.14 124.16 140.36 131.92 139.61 139.68 138.88 147.44 138.25 155.2 137.72 162.96 137.22 170.72 136.71 178.48 136.2 186.24 135.83 194 141.29M77.6 163.5 85.36 162.01 93.12 160.52 100.88 158.98 108.64 157.39 116.4 155.87 124.16 154.41 131.92 152.92 139.68 151.47 147.44 150.08 155.2 149.25 162.96 148.71 170.72 148.19 178.48 147.68 186.24 146.96 194 147.27M77.6 145.21 85.36 144.73 93.12 144.27 100.88 143.82 108.64 143.42 116.4 143.04 124.16 142.67 131.92 142.27 139.68 141.86 147.44 141.45 155.2 141.21 162.96 141.07 170.72 140.95 178.48 140.85 186.24 140.8 194 144.24M77.6 151.96 85.36 151.23 93.12 150.52 100.88 149.84 108.64 149.24 116.4 148.65 124.16 148.08 131.92 147.36 139.68 146.63 147.44 145.9 155.2 145.52 162.96 145.31 170.72 145.09 178.48 144.87 186.24 144.59 194 146.23M77.6 143.97 85.36 143.27 93.12 142.58 100.88 141.89 108.64 141.25 116.4 140.62 124.16 139.98 131.92 139.4 139.68 138.83 147.44 138.25 155.2 137.72 162.96 137.22 170.72 136.71 178.48 136.2 186.24 135.83 194 141.29M77.6 143.97 85.36 143.27 93.12 142.58 100.88 141.89 108.64 141.25 116.4 140.62 124.16 139.98 131.92 139.4 139.68 138.91 147.44 138.65 155.2 138.45 162.96 138.31 170.72 138.21 178.48 138.12 186.24 138.15 194 142.82M77.6 152.75 85.36 151.83 93.12 150.95 100.88 150.13 108.64 149.41 116.4 148.72 124.16 148.06 131.92 147.31 139.68 146.53 147.44 145.76 155.2 145.34 162.96 145.07 170.72 144.79 178.48 144.51 186.24 144.18 194 145.97M77.6 148.09 85.36 147.72 93.12 147.37 100.88 147.03 108.64 146.76 116.4 146.49 124.16 146.24 131.92 145.85 139.68 145.44 147.44 145.02 155.2 144.91 162.96 144.99 170.72 145.08 178.48 145.2 186.24 145.27 194 146.74M77.6 155.35 85.36 154.15 93.12 153.01 100.88 151.93 108.64 151.03 116.4 150.16 124.16 149.33 131.92 148.37 139.68 147.41 147.44 146.49 155.2 145.97 162.96 145.65 170.72 145.34 178.48 145.05 186.24 144.7 194 146.24M77.6 143.97 85.36 143.27 93.12 142.58 100.88 141.89 108.64 141.25 116.4 140.62 124.16 139.98 131.92 139.4 139.68 138.83 147.44 138.25 155.2 137.72 162.96 137.22 170.72 136.71 178.48 136.2 186.24 135.83 194 141.29" stroke="#368aaa" stroke-opacity="0.12" stroke-width="0.7" fill="none"/>
<rect x="76.4" y="129" width="1.5" height="15.01" fill="#c8141f" fill-opacity="0.9"/>
<rect x="76.4" y="144.01" width="1.5" height="20.39" fill="#368aaa" fill-opacity="0.9"/>
<path d="M276.85 124.11h0.01M275.15 118.41h0.01M278.74 133.64h0.01M278.49 130.65h0.01M277.2 135.79h0.01M276.79 129.81h0.01M273.39 131.71h0.01M275.94 122.25h0.01M281.36 132.96h0.01M276.89 128.05h0.01M272.89 132.42h0.01M281.77 133.03h0.01M279.2 129.86h0.01M284.25 132.24h0.01M277.7 130.43h0.01M276.02 134.68h0.01M272.87 133.26h0.01M281.74 127.49h0.01M285.72 127.27h0.01M274.87 140.09h0.01M275.43 129.94h0.01M279.41 135.95h0.01M274.84 132.66h0.01M276.63 127.4h0.01M276.38 126.38h0.01M278.11 131.16h0.01M281 131.91h0.01M277.57 133.88h0.01M280.44 123.53h0.01M276.16 127.23h0.01M278.55 129.98h0.01M270.66 139.3h0.01M272.86 117.52h0.01M280.05 132.92h0.01M275.61 127.53h0.01M279.36 132.87h0.01M279.24 127.79h0.01M281.73 132.51h0.01M280.1 139.11h0.01M280.75 132.45h0.01M277.14 132.88h0.01M275.27 132.55h0.01M275.16 126.37h0.01M275.94 133.49h0.01M273.88 129.35h0.01M275.75 126.04h0.01M277.2 130.29h0.01M278.31 129.25h0.01M276.42 134.64h0.01M271.34 130.26h0.01M277.27 127.59h0.01M278.22 138.51h0.01M280.97 135.94h0.01M279.35 137.48h0.01M275.44 133.84h0.01M275.18 129.9h0.01M283.93 128.19h0.01M279.92 128.96h0.01M283.36 135.71h0.01M284.31 131.12h0.01M274.88 122.34h0.01M278.73 130.29h0.01M278.97 122.71h0.01M279.29 131.41h0.01M279.23 123.88h0.01M278.15 123.55h0.01M278.06 131.15h0.01M272.69 130.07h0.01M276.97 121.36h0.01M275.11 134.62h0.01M277.9 142.4h0.01M276 122.35h0.01M279.48 140.51h0.01M280.12 126.72h0.01M278.49 127.78h0.01M278.51 129.52h0.01M277.8 122.55h0.01M276.07 137.65h0.01M276.97 133.21h0.01M275.91 126.37h0.01M278.74 128.98h0.01M277.55 122.16h0.01M279.36 128.59h0.01M273.25 135.65h0.01M280.34 121.07h0.01M275.06 128.1h0.01M275.15 131.31h0.01M276.87 136.27h0.01M275.7 137.92h0.01M278.43 127.99h0.01M275.66 126.43h0.01M274.08 132.98h0.01M274.79 128.5h0.01M281.7 128.79h0.01M277.64 136.44h0.01M273.76 139.79h0.01M277.53 131.96h0.01M272.52 129.44h0.01M283.23 133.64h0.01M272.62 120.12h0.01M279.03 130.4h0.01M279.24 124.67h0.01M272.86 143.64h0.01M278.46 134.46h0.01M280.69 131.28h0.01M279 129.43h0.01M278.34 116.67h0.01M280.54 134.42h0.01M278.01 139.46h0.01M278.58 126.49h0.01M277.09 134.26h0.01M279.52 134.47h0.01M274.49 121.99h0.01M280.03 135.65h0.01M275.88 137.95h0.01M274.01 131.76h0.01M278.67 130.15h0.01M282.92 134.83h0.01M280.58 122.03h0.01M275.85 131.01h0.01M279.73 136.3h0.01M276.05 123.67h0.01M277.1 135.96h0.01M277.79 128.2h0.01M270.08 119.06h0.01M278.11 129.92h0.01M274.21 125.15h0.01M275.27 132.26h0.01M272.78 124.05h0.01M272.65 136.28h0.01M274.48 126.44h0.01M280.14 132.46h0.01M282.83 127.23h0.01M277.42 128.72h0.01M280.99 137.05h0.01M276.66 131.68h0.01M271.38 128.33h0.01M277.98 123.62h0.01M278.93 136.88h0.01M276.13 134.53h0.01M278.47 128.7h0.01M279.33 131.84h0.01M274.74 124.84h0.01M272.77 124.92h0.01M276.79 125.96h0.01M276.82 132.44h0.01M276.37 132.13h0.01M280.66 126.4h0.01M283.02 134.56h0.01M276.17 134.82h0.01M279.74 131.45h0.01M280.51 136.21h0.01M279.78 128.92h0.01M280.85 129.88h0.01M276.25 133.1h0.01M279.87 130.31h0.01M283.98 134.87h0.01M280.07 123.61h0.01M275.52 138.34h0.01M279.44 126.2h0.01M281.54 129.59h0.01M278.68 122.92h0.01M275.7 133.8h0.01M282.44 137.51h0.01M273.5 136.39h0.01M279.11 135.08h0.01M277.45 121.94h0.01M273.68 126.2h0.01M281.4 127.96h0.01M278.61 125.36h0.01M273.77 136.67h0.01M279.43 131.51h0.01M276.12 130.37h0.01M271.41 133.18h0.01M275.3 125.27h0.01M278.34 125.5h0.01M279.53 125.65h0.01M278.03 133.24h0.01M277.64 132.38h0.01M279 133.68h0.01M276.82 136.43h0.01M281.27 123.03h0.01M277.98 127.42h0.01M278.44 131.31h0.01M279.23 123.08h0.01M274.12 127.57h0.01M275.23 136.08h0.01M282.39 136.56h0.01M278.57 136.42h0.01M276.6 130.74h0.01M278.59 129.33h0.01M275.96 136.44h0.01M278.39 128.45h0.01M275.37 132.36h0.01M278.38 137.79h0.01M272.45 128.48h0.01M281.76 127.14h0.01M275.86 130.45h0.01M272.44 133.79h0.01M276.78 133.15h0.01M276.31 131.36h0.01M277.99 133.56h0.01M273.84 121.7h0.01M278.77 125.77h0.01M289.1 131.4h0.01M273.41 125.39h0.01M278.58 123.12h0.01M276.51 123.86h0.01M278.12 125.45h0.01M271.7 129.52h0.01M273.82 124.88h0.01M278.97 131.79h0.01M277.38 139.83h0.01M282.73 129.69h0.01M275.24 137.51h0.01M278.06 132.09h0.01M286.82 124.34h0.01M275.05 129.09h0.01M274.61 125.1h0.01M277.39 134.72h0.01M277.36 124.16h0.01M280.2 137.77h0.01M277.91 133.68h0.01M275.08 119.38h0.01M278.18 134.81h0.01M285.94 139.04h0.01M281.57 126.15h0.01M268.6 135.92h0.01M277.05 120.61h0.01M274.7 131.89h0.01M279.49 121.36h0.01M276.95 133.15h0.01M283.68 120.67h0.01M280.48 116.02h0.01M280.35 132.68h0.01M278.1 143.08h0.01M277.37 127.22h0.01M278.59 135.07h0.01M281.64 131.11h0.01M279.21 128.72h0.01M276.38 133.88h0.01M281.58 139.53h0.01M278.11 123.71h0.01M277.25 133.6h0.01M274.97 132.4h0.01M275.69 122.67h0.01M275.46 139.38h0.01M268.56 141.22h0.01M280.75 125.26h0.01M279.31 140.06h0.01M276.81 130.81h0.01M280.85 129.6h0.01M278.9 138.77h0.01M278.69 131.75h0.01M269.58 132.28h0.01M276.75 138.85h0.01M279.2 137.59h0.01M282.65 135.41h0.01M283.39 122.8h0.01M282.06 121.85h0.01" stroke="#c8141f" stroke-opacity="0.9" stroke-width="1.4" stroke-linecap="round" fill="none"/>
<path d="M292.19 126.79h0.01M280.9 124.91h0.01M286.82 135.64h0.01M280.09 124.98h0.01M284.99 135.74h0.01M278.97 124.43h0.01M294.97 135.44h0.01M280.4 131.52h0.01M285.33 128.62h0.01M284.96 126.07h0.01M292.63 132.31h0.01M278.19 120.59h0.01M285.82 129.48h0.01M284.85 128.82h0.01M288.91 134.73h0.01M288.6 124.1h0.01M283.45 140.42h0.01M287.32 129.29h0.01M283.94 124.74h0.01M288.57 138.62h0.01M285.44 140.15h0.01M282.39 129.97h0.01M285.85 126.1h0.01M288 131.09h0.01M298.46 127.2h0.01M283.3 129.28h0.01M287.69 139.57h0.01M294.05 133.16h0.01M274.57 131.8h0.01M276.41 132.9h0.01M279.46 130.68h0.01M285.37 135.63h0.01M299.42 135.84h0.01M288.15 128.97h0.01M292.64 131.58h0.01M284.78 144.27h0.01M272.45 133.32h0.01M273.27 129.98h0.01M291.6 142.27h0.01M287.02 131.05h0.01M278.86 124.96h0.01M292.15 134.71h0.01M277.54 126.05h0.01M292.24 128.27h0.01M293.98 132.79h0.01" stroke="#c8141f" stroke-opacity="0.85" stroke-width="1.2" stroke-linecap="round" fill="none"/>
<path d="M161.11 125.56h0.01M160.67 125.89h0.01M160.81 128.74h0.01M160.78 127.58h0.01M162.02 123.97h0.01M160.7 126.41h0.01M160.8 126.12h0.01M162.63 126.07h0.01M160.81 125.63h0.01M162.24 124.41h0.01M162.12 127.42h0.01M161.09 125.08h0.01M160.21 125.82h0.01M161.52 125.52h0.01M161.67 125.35h0.01M161.88 127.27h0.01M161.25 126.8h0.01M162.04 125.42h0.01M162.17 125.07h0.01M160.46 125.69h0.01M162.2 127.56h0.01M161.32 126.46h0.01" stroke="#c8141f" stroke-opacity="0.9" stroke-width="1.3" stroke-linecap="round" fill="none"/>
<path d="M144.51 146.57h0.01M143.28 146.78h0.01M143.43 146.22h0.01M144.48 148.99h0.01M139.94 147.44h0.01M147.55 145.32h0.01M142.27 152.47h0.01M142.75 147.16h0.01M146.94 146.49h0.01M144.49 150.48h0.01M144.09 150.36h0.01M142.72 146.66h0.01M140.57 146.14h0.01M144.41 146.9h0.01M146.63 150.31h0.01M142.02 148h0.01M147 147.21h0.01M141.52 148.45h0.01M142.39 150.43h0.01M145.11 146.28h0.01M144 147.89h0.01M145.52 146.29h0.01M142.37 151.98h0.01M141.73 151.41h0.01M139.89 150.02h0.01" stroke="#368aaa" stroke-opacity="0.85" stroke-width="1.2" stroke-linecap="round" fill="none"/>
<path d="M166.5 147.05h0.01M176.61 144.14h0.01M172.76 148.18h0.01M145.42 146.29h0.01M157 148.52h0.01M191.52 142.4h0.01M141.36 148.79h0.01M176.05 144.56h0.01M161.75 146.85h0.01M172.2 145.07h0.01M159.23 143.46h0.01M143.3 146.28h0.01M169.18 146.41h0.01M136.36 149.57h0.01M186.98 142.86h0.01M183.13 142.04h0.01M158.05 145.64h0.01M167.7 146.06h0.01M167.12 145.42h0.01M193.8 143.53h0.01M138.58 149.77h0.01M153.56 148.88h0.01M160.01 148.09h0.01M182.46 143.98h0.01M179.07 145.81h0.01M160.98 146.53h0.01M136.69 146.26h0.01M174.23 147.39h0.01M160 147.04h0.01M142.89 147.31h0.01M173.23 148.31h0.01M162.25 147.97h0.01M154.08 148.67h0.01M151.88 149.37h0.01M166.73 147.61h0.01M150.61 145.52h0.01M159.2 146.33h0.01M191.58 146.56h0.01M164.19 145.39h0.01M150.96 147.58h0.01M166.75 147.09h0.01M190.12 147.34h0.01M187.11 147.28h0.01M175.96 147.31h0.01M189.04 144.8h0.01M180.64 147.05h0.01M176.13 146.71h0.01M161.26 146.56h0.01M144.81 150.12h0.01M179.19 146.47h0.01M173.42 144.82h0.01M193.1 146.89h0.01M154.94 146.83h0.01M187.73 146.12h0.01M148.89 145.22h0.01M191.83 144.9h0.01M194.75 143.25h0.01M138.78 146.83h0.01M155.15 144.17h0.01M194.9 148.18h0.01M193.13 144.61h0.01M175.57 146.27h0.01M143.93 149.78h0.01M136.39 148.37h0.01M150.7 148.35h0.01M191.72 142.76h0.01M183.49 145.72h0.01M161.28 146.14h0.01M180.91 146.37h0.01M189.23 145.36h0.01M153.69 145.1h0.01M187.59 142.21h0.01M151.9 145.82h0.01M155.39 148.38h0.01M138.64 149.07h0.01M145.45 148.54h0.01M168.5 143.1h0.01M137.41 144.18h0.01M168.2 145.35h0.01M146.03 147.32h0.01M180.18 144.64h0.01M143.55 148.6h0.01M148.21 147.42h0.01M151.87 145.54h0.01M170.38 144.8h0.01M183.7 145.62h0.01M180.44 145.7h0.01M179.73 145.51h0.01M176.22 149.47h0.01M168.06 145.94h0.01M156.21 147.33h0.01M146.61 146.21h0.01M186.96 144.62h0.01M160.14 147.71h0.01M174.36 146.86h0.01M140.03 148.03h0.01M157.29 147.7h0.01M141.92 148.23h0.01M156.92 144.08h0.01M179.26 140.41h0.01M156.13 150.84h0.01M176.25 147.16h0.01M143.27 147.95h0.01M158.71 144.18h0.01M160.19 144.82h0.01M166.03 148.65h0.01M149.48 143.14h0.01M177.22 145.25h0.01M188.06 146.52h0.01M183.95 145.6h0.01" stroke="#368aaa" stroke-opacity="0.8" stroke-width="1.2" stroke-linecap="round" fill="none"/>
<path d="M194.51 146.71h0.01M192.74 146.6h0.01M197.79 140.69h0.01M190.94 138.53h0.01M190.28 138.49h0.01M193.55 141.33h0.01M195.86 143.75h0.01M192.89 143.53h0.01M195.1 137.7h0.01M191.94 142.59h0.01M190.63 142.05h0.01M195.8 142.27h0.01" stroke="#368aaa" stroke-opacity="0.75" stroke-width="1.1" stroke-linecap="round" fill="none"/>
<path d="M77.1 144.01 L87.9 143.02 L98.7 142.07 L109.5 141.16 L120.3 140.28 L131.1 139.44 L141.9 138.64 L152.7 137.87 L163.5 137.14 L174.3 136.45 L185.1 135.8 L195.9 135.18 L206.7 134.6 L217.5 134.06 L228.3 133.55 L239.1 133.08 L249.9 132.65 L260.7 132.26 L271.5 131.9 L282.3 131.58" stroke="#1a1a1a" stroke-width="1.1" stroke-opacity="0.95" fill="none"/>
<path d="M404.6 98.35 L417.86 99.78 L431.12 101.2 L444.38 102.54 L457.64 103.84 L470.9 105.07 L484.16 106.3 L497.42 105.51 L510.68 104.15 L523.94 104.29 L537.2 104.74 L550.46 105.19 L563.72 105.52 L576.98 105.42 L590.24 105.73 L603.5 106.55 L603.5 107.83 L590.24 106.99 L576.98 106.69 L563.72 106.8 L550.46 106.48 L537.2 106 L523.94 105.5 L510.68 105.39 L497.42 106.59 L484.16 107.2 L470.9 105.97 L457.64 104.74 L444.38 103.44 L431.12 102.1 L417.86 100.68 L404.6 99.25Z" fill="#fae8e9"/>
<path d="M404.6 109.85 L417.86 109.69 L431.12 109.62 L444.38 110.41 L457.64 111.14 L470.9 111.73 L484.16 112.31 L497.42 112.94 L510.68 113.76 L523.94 114.84 L537.2 116.03 L550.46 117.28 L563.72 119.09 L576.98 120.18 L590.24 120.88 L603.5 121.23 L603.5 122.45 L590.24 122.11 L576.98 121.4 L563.72 120.27 L550.46 118.45 L537.2 117.19 L523.94 116 L510.68 114.9 L497.42 114.1 L484.16 113.51 L470.9 112.95 L457.64 112.4 L444.38 111.73 L431.12 111.01 L417.86 111.09 L404.6 111.25Z" fill="#f9e5e6"/>
<path d="M404.6 98.35 L417.86 99.78 L431.12 101.2 L444.38 102.54 L457.64 103.84 L470.9 105.07 L484.16 106.3 L497.42 105.69 L510.68 104.49 L523.94 104.6 L537.2 105.1 L550.46 105.58 L563.72 105.9 L576.98 105.79 L590.24 106.09 L603.5 106.93 L603.5 108.22 L590.24 107.36 L576.98 107.05 L563.72 107.19 L550.46 106.88 L537.2 106.36 L523.94 105.81 L510.68 105.73 L497.42 106.77 L484.16 107.2 L470.9 105.97 L457.64 104.74 L444.38 103.44 L431.12 102.1 L417.86 100.68 L404.6 99.25Z" fill="#f4d1d3"/>
<path d="M404.6 109.35 L417.86 109.19 L431.12 109.12 L444.38 109.99 L457.64 110.79 L470.9 111.4 L484.16 112.01 L497.42 112.68 L510.68 113.51 L523.94 114.57 L537.2 115.76 L550.46 117.01 L563.72 118.81 L576.98 119.87 L590.24 120.55 L603.5 120.92 L603.5 122.13 L590.24 121.78 L576.98 121.08 L563.72 119.99 L550.46 118.18 L537.2 116.93 L523.94 115.74 L510.68 114.66 L497.42 113.84 L484.16 113.21 L470.9 112.63 L457.64 112.04 L444.38 111.31 L431.12 110.52 L417.86 110.59 L404.6 110.75Z" fill="#f2c7ca"/>
<path d="M404.6 98.35 L417.86 99.78 L431.12 101.2 L444.38 102.54 L457.64 103.84 L470.9 105.07 L484.16 106.3 L497.42 105.87 L510.68 104.83 L523.94 104.91 L537.2 105.46 L550.46 105.98 L563.72 106.29 L576.98 106.15 L590.24 106.46 L603.5 107.32 L603.5 108.6 L590.24 107.72 L576.98 107.41 L563.72 107.57 L550.46 107.28 L537.2 106.72 L523.94 106.13 L510.68 106.07 L497.42 106.95 L484.16 107.2 L470.9 105.97 L457.64 104.74 L444.38 103.44 L431.12 102.1 L417.86 100.68 L404.6 99.25Z" fill="#efbabd"/>
<path d="M404.6 108.85 L417.86 108.69 L431.12 108.63 L444.38 109.57 L457.64 110.43 L470.9 111.07 L484.16 111.72 L497.42 112.42 L510.68 113.27 L523.94 114.3 L537.2 115.49 L550.46 116.75 L563.72 118.53 L576.98 119.55 L590.24 120.23 L603.5 120.6 L603.5 121.82 L590.24 121.45 L576.98 120.77 L563.72 119.71 L550.46 117.91 L537.2 116.66 L523.94 115.47 L510.68 114.41 L497.42 113.58 L484.16 112.91 L470.9 112.3 L457.64 111.69 L444.38 110.89 L431.12 110.02 L417.86 110.09 L404.6 110.25Z" fill="#ebaaae"/>
<path d="M404.6 98.35 L417.86 99.78 L431.12 101.2 L444.38 102.54 L457.64 103.84 L470.9 105.07 L484.16 106.3 L497.42 106.05 L510.68 105.17 L523.94 105.23 L537.2 105.82 L550.46 106.38 L563.72 106.67 L576.98 106.51 L590.24 106.82 L603.5 107.7 L603.5 108.98 L590.24 108.08 L576.98 107.77 L563.72 107.96 L550.46 107.68 L537.2 107.08 L523.94 106.44 L510.68 106.42 L497.42 107.13 L484.16 107.2 L470.9 105.97 L457.64 104.74 L444.38 103.44 L431.12 102.1 L417.86 100.68 L404.6 99.25Z" fill="#eaa3a8"/>
<path d="M404.6 108.35 L417.86 108.19 L431.12 108.14 L444.38 109.15 L457.64 110.07 L470.9 110.74 L484.16 111.42 L497.42 112.16 L510.68 113.02 L523.94 114.04 L537.2 115.23 L550.46 116.48 L563.72 118.25 L576.98 119.24 L590.24 119.9 L603.5 120.28 L603.5 121.5 L590.24 121.13 L576.98 120.45 L563.72 119.43 L550.46 117.65 L537.2 116.39 L523.94 115.2 L510.68 114.17 L497.42 113.32 L484.16 112.62 L470.9 111.97 L457.64 111.33 L444.38 110.47 L431.12 109.53 L417.86 109.59 L404.6 109.75Z" fill="#e48c92"/>
<path d="M404.6 98.35 L417.86 99.78 L431.12 101.2 L444.38 102.54 L457.64 103.84 L470.9 105.07 L484.16 106.3 L497.42 106.23 L510.68 105.52 L523.94 105.54 L537.2 106.18 L550.46 106.78 L563.72 107.06 L576.98 106.87 L590.24 107.18 L603.5 108.08 L603.5 109.37 L590.24 108.44 L576.98 108.14 L563.72 108.34 L550.46 108.08 L537.2 107.44 L523.94 106.75 L510.68 106.76 L497.42 107.31 L484.16 107.2 L470.9 105.97 L457.64 104.74 L444.38 103.44 L431.12 102.1 L417.86 100.68 L404.6 99.25Z" fill="#df757b"/>
<path d="M404.6 107.85 L417.86 107.69 L431.12 107.64 L444.38 108.73 L457.64 109.71 L470.9 110.42 L484.16 111.12 L497.42 111.9 L510.68 112.77 L523.94 113.77 L537.2 114.96 L550.46 116.21 L563.72 117.96 L576.98 118.92 L590.24 119.57 L603.5 119.97 L603.5 121.18 L590.24 120.8 L576.98 120.14 L563.72 119.15 L550.46 117.38 L537.2 116.13 L523.94 114.94 L510.68 113.92 L497.42 113.06 L484.16 112.32 L470.9 111.64 L457.64 110.97 L444.38 110.05 L431.12 109.04 L417.86 109.09 L404.6 109.25Z" fill="#db666d"/>
<path d="M404.6 98.35 L417.86 99.78 L431.12 101.2 L444.38 102.54 L457.64 103.84 L470.9 105.07 L484.16 106.3 L497.42 106.41 L510.68 105.86 L523.94 105.85 L537.2 106.54 L550.46 107.18 L563.72 107.44 L576.98 107.24 L590.24 107.54 L603.5 108.47 L603.5 109.75 L590.24 108.8 L576.98 108.5 L563.72 108.73 L550.46 108.48 L537.2 107.8 L523.94 107.07 L510.68 107.1 L497.42 107.5 L484.16 107.2 L470.9 105.97 L457.64 104.74 L444.38 103.44 L431.12 102.1 L417.86 100.68 L404.6 99.25Z" fill="#d3444d"/>
<path d="M404.6 107.35 L417.86 107.19 L431.12 107.15 L444.38 108.31 L457.64 109.35 L470.9 110.09 L484.16 110.83 L497.42 111.64 L510.68 112.53 L523.94 113.5 L537.2 114.69 L550.46 115.94 L563.72 117.68 L576.98 118.61 L590.24 119.24 L603.5 119.65 L603.5 120.87 L590.24 120.47 L576.98 119.82 L563.72 118.86 L550.46 117.11 L537.2 115.86 L523.94 114.67 L510.68 113.67 L497.42 112.8 L484.16 112.02 L470.9 111.32 L457.64 110.61 L444.38 109.63 L431.12 108.54 L417.86 108.59 L404.6 108.75Z" fill="#d23f48"/>
<path d="M404.6 98.35 L417.86 99.78 L431.12 101.2 L444.38 102.54 L457.64 103.84 L470.9 105.07 L484.16 106.3 L497.42 106.6 L510.68 106.2 L523.94 106.17 L537.2 106.9 L550.46 107.58 L563.72 107.83 L576.98 107.6 L590.24 107.9 L603.5 108.85 L603.5 110.65 L590.24 109.74 L576.98 109.42 L563.72 109.55 L550.46 109.17 L537.2 108.45 L523.94 107.68 L510.68 107.63 L497.42 107.92 L484.16 107.57 L470.9 106.39 L457.64 105.2 L444.38 103.92 L431.12 102.59 L417.86 101.3 L404.6 100Z" fill="#cd2a34"/>
<path d="M404.6 106.6 L417.86 106.58 L431.12 106.65 L444.38 107.83 L457.64 108.89 L470.9 109.67 L484.16 110.45 L497.42 111.22 L510.68 112 L523.94 112.89 L537.2 114.04 L550.46 115.24 L563.72 116.86 L576.98 117.69 L590.24 118.3 L603.5 118.75 L603.5 120.55 L590.24 120.14 L576.98 119.51 L563.72 118.58 L550.46 116.84 L537.2 115.59 L523.94 114.4 L510.68 113.43 L497.42 112.54 L484.16 111.73 L470.9 110.99 L457.64 110.25 L444.38 109.21 L431.12 108.05 L417.86 108.09 L404.6 108.25Z" fill="#cd2a34"/>
<path d="M404.6 99.1 L417.86 100.4 L431.12 101.69 L444.38 103.02 L457.64 104.3 L470.9 105.49 L484.16 106.67 L497.42 107.02 L510.68 106.73 L523.94 106.78 L537.2 107.55 L550.46 108.27 L563.72 108.65 L576.98 108.52 L590.24 108.84 L603.5 109.75 L603.5 111.55 L590.24 110.69 L576.98 110.33 L563.72 110.37 L550.46 109.87 L537.2 109.1 L523.94 108.29 L510.68 108.15 L497.42 108.34 L484.16 107.95 L470.9 106.81 L457.64 105.66 L444.38 104.4 L431.12 103.09 L417.86 101.91 L404.6 100.75Z" fill="#cd2832"/>
<path d="M404.6 105.85 L417.86 105.96 L431.12 106.16 L444.38 107.35 L457.64 108.43 L470.9 109.25 L484.16 110.07 L497.42 110.8 L510.68 111.47 L523.94 112.28 L537.2 113.39 L550.46 114.55 L563.72 116.04 L576.98 116.77 L590.24 117.35 L603.5 117.85 L603.5 119.65 L590.24 119.2 L576.98 118.59 L563.72 117.76 L550.46 116.14 L537.2 114.94 L523.94 113.79 L510.68 112.9 L497.42 112.12 L484.16 111.35 L470.9 110.57 L457.64 109.79 L444.38 108.73 L431.12 107.55 L417.86 107.48 L404.6 107.5Z" fill="#cd2832"/>
<path d="M404.6 99.85 L417.86 101.01 L431.12 102.19 L444.38 103.5 L457.64 104.76 L470.9 105.91 L484.16 107.05 L497.42 107.44 L510.68 107.25 L523.94 107.39 L537.2 108.2 L550.46 108.97 L563.72 109.47 L576.98 109.43 L590.24 109.79 L603.5 110.65 L603.5 112.45 L590.24 111.63 L576.98 111.25 L563.72 111.19 L550.46 110.57 L537.2 109.75 L523.94 108.9 L510.68 108.68 L497.42 108.76 L484.16 108.33 L470.9 107.22 L457.64 106.12 L444.38 104.88 L431.12 103.59 L417.86 102.53 L404.6 101.5Z" fill="#cc2630"/>
<path d="M404.6 105.1 L417.86 105.34 L431.12 105.66 L444.38 106.87 L457.64 107.98 L470.9 108.83 L484.16 109.69 L497.42 110.38 L510.68 110.95 L523.94 111.67 L537.2 112.74 L550.46 113.85 L563.72 115.22 L576.98 115.85 L590.24 116.41 L603.5 116.95 L603.5 118.75 L590.24 118.25 L576.98 117.67 L563.72 116.94 L550.46 115.45 L537.2 114.29 L523.94 113.18 L510.68 112.37 L497.42 111.7 L484.16 110.97 L470.9 110.15 L457.64 109.33 L444.38 108.25 L431.12 107.06 L417.86 106.86 L404.6 106.75Z" fill="#cc2630"/>
<path d="M404.6 104.35 L417.86 104.72 L431.12 105.16 L444.38 106.38 L457.64 107.52 L470.9 108.42 L484.16 109.32 L497.42 109.96 L510.68 110.42 L523.94 111.06 L537.2 112.09 L550.46 113.15 L563.72 114.4 L576.98 114.94 L590.24 115.46 L603.5 116.05 L603.5 117.85 L590.24 117.31 L576.98 116.75 L563.72 116.12 L550.46 114.75 L537.2 113.64 L523.94 112.57 L510.68 111.85 L497.42 111.28 L484.16 110.59 L470.9 109.73 L457.64 108.88 L444.38 107.77 L431.12 106.56 L417.86 106.24 L404.6 106Z" fill="#cc232e"/>
<path d="M404.6 100.6 L417.86 101.63 L431.12 102.69 L444.38 103.98 L457.64 105.22 L470.9 106.32 L484.16 107.43 L497.42 107.86 L510.68 107.78 L523.94 108 L537.2 108.85 L550.46 109.67 L563.72 110.29 L576.98 110.35 L590.24 110.73 L603.5 111.55 L603.5 113.35 L590.24 112.58 L576.98 112.17 L563.72 112.01 L550.46 111.27 L537.2 110.4 L523.94 109.51 L510.68 109.21 L497.42 109.18 L484.16 108.71 L470.9 107.64 L457.64 106.58 L444.38 105.36 L431.12 104.08 L417.86 103.15 L404.6 102.25Z" fill="#cc232e"/>
<path d="M404.6 101.35 L417.86 102.25 L431.12 103.18 L444.38 104.46 L457.64 105.68 L470.9 106.74 L484.16 107.81 L497.42 108.28 L510.68 108.31 L523.94 108.61 L537.2 109.5 L550.46 110.37 L563.72 111.11 L576.98 111.27 L590.24 111.68 L603.5 112.45 L603.5 114.25 L590.24 113.52 L576.98 113.08 L563.72 112.83 L550.46 111.96 L537.2 111.05 L523.94 110.12 L510.68 109.74 L497.42 109.6 L484.16 109.08 L470.9 108.06 L457.64 107.04 L444.38 105.84 L431.12 104.58 L417.86 103.77 L404.6 103Z" fill="#cb212b"/>
<path d="M404.6 103.6 L417.86 104.1 L431.12 104.67 L444.38 105.9 L457.64 107.06 L470.9 108 L484.16 108.94 L497.42 109.54 L510.68 109.89 L523.94 110.45 L537.2 111.44 L550.46 112.46 L563.72 113.58 L576.98 114.02 L590.24 114.52 L603.5 115.15 L603.5 116.95 L590.24 116.36 L576.98 115.84 L563.72 115.3 L550.46 114.05 L537.2 112.99 L523.94 111.96 L510.68 111.32 L497.42 110.86 L484.16 110.22 L470.9 109.32 L457.64 108.42 L444.38 107.28 L431.12 106.06 L417.86 105.62 L404.6 105.25Z" fill="#cb212b"/>
<path d="M404.6 102.1 L417.86 102.87 L431.12 103.68 L444.38 104.94 L457.64 106.14 L470.9 107.16 L484.16 108.18 L497.42 108.7 L510.68 108.84 L523.94 109.22 L537.2 110.15 L550.46 111.06 L563.72 111.93 L576.98 112.18 L590.24 112.62 L603.5 113.35 L603.5 115.15 L590.24 114.47 L576.98 114 L563.72 113.65 L550.46 112.66 L537.2 111.7 L523.94 110.74 L510.68 110.26 L497.42 110.02 L484.16 109.46 L470.9 108.48 L457.64 107.5 L444.38 106.32 L431.12 105.07 L417.86 104.39 L404.6 103.75Z" fill="#ca1f29"/>
<path d="M404.6 102.85 L417.86 103.49 L431.12 104.17 L444.38 105.42 L457.64 106.6 L470.9 107.58 L484.16 108.56 L497.42 109.12 L510.68 109.36 L523.94 109.84 L537.2 110.8 L550.46 111.76 L563.72 112.75 L576.98 113.1 L590.24 113.57 L603.5 114.25 L603.5 116.05 L590.24 115.42 L576.98 114.92 L563.72 114.48 L550.46 113.36 L537.2 112.34 L523.94 111.35 L510.68 110.79 L497.42 110.44 L484.16 109.84 L470.9 108.9 L457.64 107.96 L444.38 106.8 L431.12 105.57 L417.86 105 L404.6 104.5Z" fill="#ca1f29"/>
<path d="M404.6 98.8 417.86 100.23 431.12 101.65 444.38 102.99 457.64 104.29 470.9 105.52 484.16 106.75 497.42 105.97 510.68 104.6 523.94 104.74 537.2 105.19 550.46 105.64 563.72 105.97 576.98 105.87 590.24 106.18 603.5 107M404.6 109.95 417.86 109.81 431.12 109.75 444.38 110.6 457.64 111.38 470.9 112 484.16 112.6 497.42 113.26 510.68 114.09 523.94 115.17 537.2 116.37 550.46 117.63 563.72 119.45 576.98 120.53 590.24 121.24 603.5 121.6M404.6 98.8 417.86 100.23 431.12 101.65 444.38 102.99 457.64 104.29 470.9 105.52 484.16 106.75 497.42 106.57 510.68 105.7 523.94 105.69 537.2 106.23 550.46 106.72 563.72 106.95 576.98 106.74 590.24 106.98 603.5 107.79M404.6 102.32 417.86 103.11 431.12 103.95 444.38 105.2 457.64 106.4 470.9 107.42 484.16 108.45 497.42 108.94 510.68 109 523.94 109.33 537.2 110.21 550.46 111.08 563.72 111.85 576.98 112.01 590.24 112.4 603.5 113.13M404.6 108.81 417.86 108.71 431.12 108.71 444.38 109.75 457.64 110.69 470.9 111.39 484.16 112.08 497.42 112.83 510.68 113.7 523.94 114.77 537.2 115.99 550.46 117.27 563.72 119.09 576.98 120.17 590.24 120.89 603.5 121.29M404.6 98.8 417.86 100.23 431.12 101.65 444.38 102.99 457.64 104.29 470.9 105.52 484.16 106.75 497.42 106.81 510.68 106.28 523.94 106.35 537.2 107.12 550.46 107.86 563.72 108.2 576.98 108.08 590.24 108.59 603.5 109.73M404.6 98.8 417.86 100.23 431.12 101.65 444.38 102.99 457.64 104.29 470.9 105.52 484.16 106.75 497.42 106.04 510.68 104.75 523.94 104.87 537.2 105.34 550.46 105.79 563.72 106.1 576.98 105.99 590.24 106.29 603.5 107.11M404.6 101.41 417.86 102.38 431.12 103.37 444.38 104.66 457.64 105.89 470.9 106.97 484.16 108.06 497.42 108.5 510.68 108.47 523.94 108.73 537.2 109.59 550.46 110.43 563.72 111.11 576.98 111.21 590.24 111.6 603.5 112.4M404.6 101.89 417.86 102.51 431.12 103.26 444.38 104.35 457.64 105.4 470.9 106.34 484.16 107.33 497.42 107.51 510.68 107.01 523.94 106.77 537.2 107.28 550.46 107.78 563.72 107.87 576.98 107.51 590.24 107.66 603.5 108.4M404.6 107.51 417.86 107.17 431.12 107.03 444.38 108.02 457.64 108.93 470.9 109.58 484.16 110.27 497.42 110.81 510.68 111.17 523.94 111.63 537.2 112.43 550.46 113.21 563.72 114.08 576.98 114.18 590.24 114.31 603.5 114.63M404.6 105.13 417.86 105.54 431.12 105.99 444.38 107.27 457.64 108.46 470.9 109.38 484.16 110.29 497.42 111.06 510.68 111.76 523.94 112.64 537.2 113.85 550.46 115.12 563.72 116.76 576.98 117.66 590.24 118.41 603.5 119.02M404.6 98.8 417.86 100.23 431.12 101.65 444.38 102.99 457.64 104.29 470.9 105.52 484.16 106.75 497.42 106.1 510.68 104.91 523.94 105.06 537.2 105.61 550.46 106.16 563.72 106.52 576.98 106.45 590.24 106.8 603.5 107.71M404.6 103.1 417.86 103.96 431.12 104.79 444.38 106.18 457.64 107.48 470.9 108.55 484.16 109.6 497.42 110.35 510.68 110.95 523.94 111.79 537.2 113.04 550.46 114.35 563.72 115.98 576.98 116.93 590.24 117.78 603.5 118.56M404.6 98.8 417.86 100.23 431.12 101.76 444.38 103.43 457.64 105.04 470.9 106.49 484.16 107.89 497.42 108.61 510.68 108.98 523.94 109.74 537.2 111.12 550.46 112.57 563.72 114.2 576.98 115.3 590.24 116.48 603.5 117.67M404.6 109.01 417.86 108.88 431.12 108.85 444.38 109.84 457.64 110.75 470.9 111.42 484.16 112.09 497.42 112.82 510.68 113.68 523.94 114.73 537.2 115.93 550.46 117.2 563.72 119 576.98 120.04 590.24 120.74 603.5 121.13M404.6 98.8 417.86 100.23 431.12 101.65 444.38 102.99 457.64 104.29 470.9 105.52 484.16 106.75 497.42 106.68 510.68 105.91 523.94 105.9 537.2 106.48 550.46 107.01 563.72 107.25 576.98 107.03 590.24 107.29 603.5 108.12M404.6 106.03 417.86 106.4 431.12 106.78 444.38 108.13 457.64 109.36 470.9 110.28 484.16 111.18 497.42 112.12 510.68 113.09 523.94 114.16 537.2 115.45 550.46 116.79 563.72 118.65 576.98 119.75 590.24 120.53 603.5 121.02M404.6 107.45 417.86 107.25 431.12 107.2 444.38 108.29 457.64 109.28 470.9 109.99 484.16 110.71 497.42 111.4 510.68 112.01 523.94 112.73 537.2 113.73 550.46 114.76 563.72 116.07 576.98 116.6 590.24 117 603.5 117.38M404.6 102.13 417.86 103.05 431.12 103.98 444.38 105.31 457.64 106.57 470.9 107.65 484.16 108.72 497.42 109.3 510.68 109.54 523.94 110.05 537.2 111.08 550.46 112.12 563.72 113.2 576.98 113.67 590.24 114.27 603.5 115.05M404.6 103.64 417.86 104.37 431.12 105.09 444.38 106.45 457.64 107.71 470.9 108.74 484.16 109.74 497.42 110.49 510.68 111.09 523.94 111.92 537.2 113.14 550.46 114.42 563.72 116.01 576.98 116.91 590.24 117.71 603.5 118.44M404.6 99.52 417.86 100.77 431.12 102.05 444.38 103.34 457.64 104.59 470.9 105.76 484.16 106.93 497.42 107.22 510.68 106.82 523.94 106.77 537.2 107.46 550.46 108.09 563.72 108.29 576.98 108.02 590.24 108.3 603.5 109.21M404.6 98.8 417.86 100.23 431.12 101.65 444.38 102.99 457.64 104.29 470.9 105.52 484.16 106.75 497.42 106.04 510.68 104.73 523.94 104.84 537.2 105.3 550.46 105.74 563.72 106.05 576.98 105.94 590.24 106.23 603.5 107.03M404.6 110.13 417.86 109.97 431.12 109.9 444.38 110.71 457.64 111.47 470.9 112.07 484.16 112.66 497.42 113.3 510.68 114.13 523.94 115.2 537.2 116.39 550.46 117.64 563.72 119.45 576.98 120.53 590.24 121.23 603.5 121.58M404.6 103.81 417.86 104.32 431.12 104.91 444.38 106.12 457.64 107.26 470.9 108.2 484.16 109.14 497.42 109.69 510.68 109.94 523.94 110.4 537.2 111.33 550.46 112.26 563.72 113.22 576.98 113.51 590.24 113.93 603.5 114.56M404.6 103.8 417.86 104.6 431.12 105.36 444.38 106.78 457.64 108.1 470.9 109.16 484.16 110.18 497.42 111.05 510.68 111.88 523.94 112.93 537.2 114.31 550.46 115.78 563.72 117.75 576.98 119 590.24 119.81 603.5 120.34" stroke="#c8141f" stroke-opacity="0.12" stroke-width="0.7" fill="none"/>
<path d="M404.6 84.75 L412.29 85.93 L419.99 87.11 L427.68 88.29 L435.37 89.7 L443.07 91.21 L450.76 92.72 L458.45 93.68 L466.15 94.26 L473.84 94.84 L481.53 95.41 L489.23 95.99 L496.92 96.64 L504.61 97.41 L512.31 98.23 L520 100.35 L520 101.53 L512.31 99.5 L504.61 98.68 L496.92 97.91 L489.23 97.27 L481.53 96.71 L473.84 96.15 L466.15 95.58 L458.45 95 L450.76 94.05 L443.07 92.58 L435.37 91.11 L427.68 89.73 L419.99 88.55 L412.29 87.38 L404.6 86.2Z" fill="#c6dee7"/>
<path d="M404.6 85.3 L412.29 86.48 L419.99 87.65 L427.68 88.83 L435.37 90.21 L443.07 91.68 L450.76 93.15 L458.45 94.1 L466.15 94.68 L473.84 95.25 L481.53 95.81 L489.23 96.37 L496.92 97.01 L504.61 97.78 L512.31 98.6 L520 100.63 L520 101.82 L512.31 99.86 L504.61 99.04 L496.92 98.28 L489.23 97.65 L481.53 97.1 L473.84 96.56 L466.15 95.99 L458.45 95.42 L450.76 94.48 L443.07 93.05 L435.37 91.62 L427.68 90.26 L419.99 89.09 L412.29 87.92 L404.6 86.75Z" fill="#b7d5e1"/>
<path d="M404.6 85.85 L412.29 87.02 L419.99 88.19 L427.68 89.36 L435.37 90.72 L443.07 92.15 L450.76 93.58 L458.45 94.52 L466.15 95.09 L473.84 95.66 L481.53 96.2 L489.23 96.75 L496.92 97.38 L504.61 98.14 L512.31 98.96 L520 100.92 L520 102.1 L512.31 100.22 L504.61 99.41 L496.92 98.64 L489.23 98.02 L481.53 97.49 L473.84 96.96 L466.15 96.41 L458.45 95.83 L450.76 94.91 L443.07 93.52 L435.37 92.12 L427.68 90.8 L419.99 89.63 L412.29 88.47 L404.6 87.3Z" fill="#a9cddb"/>
<path d="M404.6 86.4 L412.29 87.57 L419.99 88.73 L427.68 89.9 L435.37 91.22 L443.07 92.62 L450.76 94.01 L458.45 94.93 L466.15 95.51 L473.84 96.06 L481.53 96.59 L489.23 97.12 L496.92 97.74 L504.61 98.51 L512.31 99.32 L520 101.2 L520 102.38 L512.31 100.59 L504.61 99.78 L496.92 99.01 L489.23 98.4 L481.53 97.89 L473.84 97.37 L466.15 96.83 L458.45 96.25 L450.76 95.35 L443.07 93.99 L435.37 92.63 L427.68 91.33 L419.99 90.17 L412.29 89.01 L404.6 87.85Z" fill="#9ac4d4"/>
<path d="M404.6 86.95 L412.29 88.11 L419.99 89.27 L427.68 90.43 L435.37 91.73 L443.07 93.09 L450.76 94.45 L458.45 95.35 L466.15 95.93 L473.84 96.47 L481.53 96.99 L489.23 97.5 L496.92 98.11 L504.61 98.88 L512.31 99.69 L520 101.48 L520 102.67 L512.31 100.95 L504.61 100.14 L496.92 99.38 L489.23 98.78 L481.53 98.28 L473.84 97.78 L466.15 97.24 L458.45 96.67 L450.76 95.78 L443.07 94.46 L435.37 93.14 L427.68 91.87 L419.99 90.71 L412.29 89.56 L404.6 88.4Z" fill="#8cbcce"/>
<path d="M404.6 87.5 L412.29 88.66 L419.99 89.81 L427.68 90.97 L435.37 92.24 L443.07 93.56 L450.76 94.88 L458.45 95.77 L466.15 96.34 L473.84 96.88 L481.53 97.38 L489.23 97.88 L496.92 98.48 L504.61 99.24 L512.31 100.05 L520 101.77 L520 102.95 L512.31 101.32 L504.61 100.51 L496.92 99.74 L489.23 99.15 L481.53 98.67 L473.84 98.19 L466.15 97.66 L458.45 97.08 L450.76 96.21 L443.07 94.93 L435.37 93.65 L427.68 92.4 L419.99 91.25 L412.29 90.1 L404.6 88.95Z" fill="#7eb4c8"/>
<path d="M404.6 88.05 L412.29 89.2 L419.99 90.35 L427.68 91.5 L435.37 92.75 L443.07 94.03 L450.76 95.31 L458.45 96.18 L466.15 96.76 L473.84 97.29 L481.53 97.77 L489.23 98.25 L496.92 98.84 L504.61 99.61 L512.31 100.42 L520 102.05 L520 103.29 L512.31 101.9 L504.61 101.13 L496.92 100.39 L489.23 99.81 L481.53 99.33 L473.84 98.85 L466.15 98.32 L458.45 97.73 L450.76 96.87 L443.07 95.63 L435.37 94.39 L427.68 93.18 L419.99 92.06 L412.29 90.93 L404.6 89.81Z" fill="#74aec4"/>
<path d="M404.6 88.91 L412.29 90.03 L419.99 91.16 L427.68 92.28 L435.37 93.49 L443.07 94.73 L450.76 95.97 L458.45 96.83 L466.15 97.42 L473.84 97.95 L481.53 98.43 L489.23 98.91 L496.92 99.49 L504.61 100.23 L512.31 101 L520 102.39 L520 103.63 L512.31 102.49 L504.61 101.75 L496.92 101.03 L489.23 100.46 L481.53 99.99 L473.84 99.52 L466.15 98.98 L458.45 98.38 L450.76 97.52 L443.07 96.32 L435.37 95.13 L427.68 93.96 L419.99 92.86 L412.29 91.76 L404.6 90.67Z" fill="#6fabc2"/>
<path d="M404.6 89.77 L412.29 90.86 L419.99 91.96 L427.68 93.06 L435.37 94.23 L443.07 95.42 L450.76 96.62 L458.45 97.48 L466.15 98.08 L473.84 98.62 L481.53 99.09 L489.23 99.56 L496.92 100.13 L504.61 100.85 L512.31 101.59 L520 102.73 L520 103.98 L512.31 103.07 L504.61 102.37 L496.92 101.67 L489.23 101.12 L481.53 100.65 L473.84 100.18 L466.15 99.64 L458.45 99.02 L450.76 98.18 L443.07 97.02 L435.37 95.87 L427.68 94.74 L419.99 93.67 L412.29 92.6 L404.6 91.53Z" fill="#6ba9c0"/>
<path d="M404.6 90.63 L412.29 91.7 L419.99 92.77 L427.68 93.84 L435.37 94.97 L443.07 96.12 L450.76 97.28 L458.45 98.12 L466.15 98.74 L473.84 99.28 L481.53 99.75 L489.23 100.22 L496.92 100.77 L504.61 101.47 L512.31 102.17 L520 103.08 L520 104.32 L512.31 103.66 L504.61 102.99 L496.92 102.32 L489.23 101.77 L481.53 101.31 L473.84 100.84 L466.15 100.3 L458.45 99.67 L450.76 98.83 L443.07 97.72 L435.37 96.61 L427.68 95.51 L419.99 94.47 L412.29 93.43 L404.6 92.38Z" fill="#66a6be"/>
<path d="M404.6 91.48 L412.29 92.53 L419.99 93.57 L427.68 94.61 L435.37 95.71 L443.07 96.82 L450.76 97.93 L458.45 98.77 L466.15 99.4 L473.84 99.94 L481.53 100.41 L489.23 100.87 L496.92 101.42 L504.61 102.09 L512.31 102.76 L520 103.42 L520 104.66 L512.31 104.24 L504.61 103.61 L496.92 102.96 L489.23 102.43 L481.53 101.97 L473.84 101.51 L466.15 100.95 L458.45 100.31 L450.76 99.49 L443.07 98.42 L435.37 97.35 L427.68 96.29 L419.99 95.28 L412.29 94.26 L404.6 93.24Z" fill="#61a3bc"/>
<path d="M404.6 92.34 L412.29 93.36 L419.99 94.38 L427.68 95.39 L435.37 96.45 L443.07 97.52 L450.76 98.59 L458.45 99.41 L466.15 100.05 L473.84 100.61 L481.53 101.07 L489.23 101.53 L496.92 102.06 L504.61 102.71 L512.31 103.34 L520 103.76 L520 105 L512.31 104.83 L504.61 104.22 L496.92 103.6 L489.23 103.08 L481.53 102.63 L473.84 102.17 L466.15 101.61 L458.45 100.96 L450.76 100.15 L443.07 99.12 L435.37 98.09 L427.68 97.07 L419.99 96.08 L412.29 95.09 L404.6 94.1Z" fill="#5da0ba"/>
<path d="M404.6 93.2 L412.29 94.19 L419.99 95.18 L427.68 96.17 L435.37 97.19 L443.07 98.22 L450.76 99.25 L458.45 100.06 L466.15 100.71 L473.84 101.27 L481.53 101.73 L489.23 102.18 L496.92 102.7 L504.61 103.32 L512.31 103.93 L520 104.1 L520 105.34 L512.31 105.41 L504.61 104.84 L496.92 104.25 L489.23 103.74 L481.53 103.29 L473.84 102.83 L466.15 102.27 L458.45 101.6 L450.76 100.8 L443.07 99.81 L435.37 98.83 L427.68 97.85 L419.99 96.88 L412.29 95.92 L404.6 94.96Z" fill="#589eb9"/>
<path d="M404.6 94.06 L412.29 95.02 L419.99 95.98 L427.68 96.95 L435.37 97.93 L443.07 98.91 L450.76 99.9 L458.45 100.7 L466.15 101.37 L473.84 101.93 L481.53 102.39 L489.23 102.84 L496.92 103.35 L504.61 103.94 L512.31 104.51 L520 104.44 L520 105.68 L512.31 106 L504.61 105.46 L496.92 104.89 L489.23 104.39 L481.53 103.94 L473.84 103.5 L466.15 102.93 L458.45 102.25 L450.76 101.46 L443.07 100.51 L435.37 99.57 L427.68 98.62 L419.99 97.69 L412.29 96.75 L404.6 95.82Z" fill="#559cb7"/>
<path d="M404.6 94.92 L412.29 95.85 L419.99 96.79 L427.68 97.72 L435.37 98.67 L443.07 99.61 L450.76 100.56 L458.45 101.35 L466.15 102.03 L473.84 102.6 L481.53 103.04 L489.23 103.49 L496.92 103.99 L504.61 104.56 L512.31 105.1 L520 104.78 L520 106.02 L512.31 106.58 L504.61 106.08 L496.92 105.53 L489.23 105.05 L481.53 104.6 L473.84 104.16 L466.15 103.59 L458.45 102.89 L450.76 102.11 L443.07 101.21 L435.37 100.31 L427.68 99.4 L419.99 98.49 L412.29 97.58 L404.6 96.68Z" fill="#519ab5"/>
<path d="M404.6 95.78 L412.29 96.68 L419.99 97.59 L427.68 98.5 L435.37 99.41 L443.07 100.31 L450.76 101.21 L458.45 101.99 L466.15 102.69 L473.84 103.26 L481.53 103.7 L489.23 104.15 L496.92 104.63 L504.61 105.18 L512.31 105.68 L520 105.12 L520 106.37 L512.31 107.17 L504.61 106.7 L496.92 106.18 L489.23 105.7 L481.53 105.26 L473.84 104.82 L466.15 104.25 L458.45 103.54 L450.76 102.77 L443.07 101.91 L435.37 101.05 L427.68 100.18 L419.99 99.3 L412.29 98.42 L404.6 97.53Z" fill="#4d98b4"/>
<path d="M404.6 96.63 L412.29 97.52 L419.99 98.4 L427.68 99.28 L435.37 100.15 L443.07 101.01 L450.76 101.87 L458.45 102.64 L466.15 103.35 L473.84 103.92 L481.53 104.36 L489.23 104.8 L496.92 105.28 L504.61 105.8 L512.31 106.27 L520 105.47 L520 106.71 L512.31 107.76 L504.61 107.32 L496.92 106.82 L489.23 106.36 L481.53 105.92 L473.84 105.48 L466.15 104.91 L458.45 104.19 L450.76 103.42 L443.07 102.61 L435.37 101.79 L427.68 100.96 L419.99 100.1 L412.29 99.25 L404.6 98.39Z" fill="#4a95b2"/>
<path d="M404.6 97.49 L412.29 98.35 L419.99 99.2 L427.68 100.06 L435.37 100.89 L443.07 101.71 L450.76 102.52 L458.45 103.29 L466.15 104.01 L473.84 104.58 L481.53 105.02 L489.23 105.46 L496.92 105.92 L504.61 106.42 L512.31 106.86 L520 105.81 L520 107.05 L512.31 108.34 L504.61 107.94 L496.92 107.46 L489.23 107.01 L481.53 106.58 L473.84 106.15 L466.15 105.56 L458.45 104.83 L450.76 104.08 L443.07 103.3 L435.37 102.53 L427.68 101.74 L419.99 100.91 L412.29 100.08 L404.6 99.25Z" fill="#4693b1"/>
<path d="M404.6 98.35 L412.29 99.18 L419.99 100.01 L427.68 100.84 L435.37 101.63 L443.07 102.4 L450.76 103.18 L458.45 103.93 L466.15 104.66 L473.84 105.25 L481.53 105.68 L489.23 106.11 L496.92 106.56 L504.61 107.04 L512.31 107.44 L520 106.15 L520 107.12 L512.31 108.34 L504.61 107.94 L496.92 107.46 L489.23 107.01 L481.53 106.58 L473.84 106.15 L466.15 105.56 L458.45 104.83 L450.76 104.08 L443.07 103.3 L435.37 102.53 L427.68 101.74 L419.99 100.91 L412.29 100.08 L404.6 99.25Z" fill="#4392b0"/>
<path d="M404.6 98.35 L412.29 99.18 L419.99 100.01 L427.68 100.84 L435.37 101.63 L443.07 102.4 L450.76 103.18 L458.45 103.93 L466.15 104.66 L473.84 105.25 L481.53 105.68 L489.23 106.11 L496.92 106.56 L504.61 107.04 L512.31 107.44 L520 106.22 L520 107.18 L512.31 108.35 L504.61 107.94 L496.92 107.46 L489.23 107.01 L481.53 106.58 L473.84 106.15 L466.15 105.56 L458.45 104.83 L450.76 104.08 L443.07 103.3 L435.37 102.53 L427.68 101.74 L419.99 100.91 L412.29 100.08 L404.6 99.25Z" fill="#4291af"/>
<path d="M404.6 98.35 L412.29 99.18 L419.99 100.01 L427.68 100.84 L435.37 101.63 L443.07 102.4 L450.76 103.18 L458.45 103.93 L466.15 104.66 L473.84 105.25 L481.53 105.68 L489.23 106.11 L496.92 106.56 L504.61 107.04 L512.31 107.45 L520 106.28 L520 107.25 L512.31 108.35 L504.61 107.94 L496.92 107.46 L489.23 107.01 L481.53 106.58 L473.84 106.15 L466.15 105.56 L458.45 104.83 L450.76 104.08 L443.07 103.3 L435.37 102.53 L427.68 101.74 L419.99 100.91 L412.29 100.08 L404.6 99.25Z" fill="#4090ae"/>
<path d="M404.6 98.35 L412.29 99.18 L419.99 100.01 L427.68 100.84 L435.37 101.63 L443.07 102.4 L450.76 103.18 L458.45 103.93 L466.15 104.66 L473.84 105.25 L481.53 105.68 L489.23 106.11 L496.92 106.56 L504.61 107.04 L512.31 107.45 L520 106.35 L520 107.32 L512.31 108.35 L504.61 107.94 L496.92 107.46 L489.23 107.01 L481.53 106.58 L473.84 106.15 L466.15 105.56 L458.45 104.83 L450.76 104.08 L443.07 103.3 L435.37 102.53 L427.68 101.74 L419.99 100.91 L412.29 100.08 L404.6 99.25Z" fill="#3e8fad"/>
<path d="M404.6 98.35 L412.29 99.18 L419.99 100.01 L427.68 100.84 L435.37 101.63 L443.07 102.4 L450.76 103.18 L458.45 103.93 L466.15 104.66 L473.84 105.25 L481.53 105.68 L489.23 106.11 L496.92 106.56 L504.61 107.04 L512.31 107.45 L520 106.42 L520 107.38 L512.31 108.35 L504.61 107.94 L496.92 107.46 L489.23 107.01 L481.53 106.58 L473.84 106.15 L466.15 105.56 L458.45 104.83 L450.76 104.08 L443.07 103.3 L435.37 102.53 L427.68 101.74 L419.99 100.91 L412.29 100.08 L404.6 99.25Z" fill="#3d8ead"/>
<path d="M404.6 98.35 L412.29 99.18 L419.99 100.01 L427.68 100.84 L435.37 101.63 L443.07 102.4 L450.76 103.18 L458.45 103.93 L466.15 104.66 L473.84 105.25 L481.53 105.68 L489.23 106.11 L496.92 106.56 L504.61 107.04 L512.31 107.45 L520 106.48 L520 107.45 L512.31 108.36 L504.61 107.94 L496.92 107.46 L489.23 107.01 L481.53 106.58 L473.84 106.15 L466.15 105.56 L458.45 104.83 L450.76 104.08 L443.07 103.3 L435.37 102.53 L427.68 101.74 L419.99 100.91 L412.29 100.08 L404.6 99.25Z" fill="#3b8dac"/>
<path d="M404.6 96.36 412.29 97.45 419.99 98.53 427.68 99.6 435.37 100.64 443.07 101.65 450.76 102.65 458.45 103.56 466.15 104.43 473.84 105.15 481.53 105.74 489.23 106.32 496.92 106.92 504.61 107.49 512.31 107.89 520 106.64M404.6 98.8 412.29 99.63 419.99 100.46 427.68 101.29 435.37 102.08 443.07 102.85 450.76 103.63 458.45 104.38 466.15 105.11 473.84 105.7 481.53 106.13 489.23 106.56 496.92 107.01 504.61 107.49 512.31 107.9 520 106.78M404.6 86.81 412.29 88.01 419.99 89.2 427.68 90.4 435.37 91.75 443.07 93.17 450.76 94.58 458.45 95.52 466.15 96.12 473.84 96.7 481.53 97.24 489.23 97.78 496.92 98.42 504.61 99.21 512.31 100.04 520 101.88M404.6 87.3 412.29 88.44 419.99 89.58 427.68 90.72 435.37 92 443.07 93.35 450.76 94.7 458.45 95.59 466.15 96.15 473.84 96.68 481.53 97.19 489.23 97.69 496.92 98.29 504.61 99.05 512.31 99.84 520 101.69M404.6 98.8 412.29 99.63 419.99 100.46 427.68 101.29 435.37 102.08 443.07 102.85 450.76 103.63 458.45 104.38 466.15 105.11 473.84 105.7 481.53 106.13 489.23 106.56 496.92 107.01 504.61 107.49 512.31 107.9 520 106.77M404.6 86.59 412.29 87.7 419.99 88.82 427.68 89.93 435.37 91.23 443.07 92.6 450.76 93.99 458.45 94.89 466.15 95.42 473.84 95.94 481.53 96.45 489.23 96.97 496.92 97.57 504.61 98.3 512.31 99.08 520 101.08M404.6 97.22 412.29 98.14 419.99 99.05 427.68 99.96 435.37 100.84 443.07 101.72 450.76 102.59 458.45 103.39 466.15 104.13 473.84 104.74 481.53 105.2 489.23 105.67 496.92 106.16 504.61 106.7 512.31 107.17 520 106.19M404.6 93.12 412.29 94.09 419.99 95.06 427.68 96.04 435.37 97.05 443.07 98.08 450.76 99.12 458.45 99.91 466.15 100.53 473.84 101.05 481.53 101.48 489.23 101.92 496.92 102.42 504.61 103.04 512.31 103.66 520 104.12M404.6 98.8 412.29 99.63 419.99 100.46 427.68 101.29 435.37 102.08 443.07 102.85 450.76 103.63 458.45 104.38 466.15 105.11 473.84 105.7 481.53 106.13 489.23 106.56 496.92 107.01 504.61 107.49 512.31 107.9 520 106.87M404.6 87.36 412.29 88.44 419.99 89.53 427.68 90.61 435.37 91.85 443.07 93.16 450.76 94.48 458.45 95.34 466.15 95.86 473.84 96.35 481.53 96.83 489.23 97.31 496.92 97.88 504.61 98.6 512.31 99.36 520 101.29M404.6 98.6 412.29 99.53 419.99 100.46 427.68 101.29 435.37 102.08 443.07 102.85 450.76 103.63 458.45 104.38 466.15 105.11 473.84 105.7 481.53 106.13 489.23 106.56 496.92 107.01 504.61 107.49 512.31 107.89 520 106.7M404.6 92.19 412.29 93.19 419.99 94.2 427.68 95.21 435.37 96.27 443.07 97.35 450.76 98.44 458.45 99.25 466.15 99.86 473.84 100.38 481.53 100.82 489.23 101.27 496.92 101.79 504.61 102.44 512.31 103.09 520 103.79M404.6 90.91 412.29 92.27 419.99 93.61 427.68 94.93 435.37 96.28 443.07 97.63 450.76 98.95 458.45 99.99 466.15 100.86 473.84 101.64 481.53 102.32 489.23 103 496.92 103.74 504.61 104.55 512.31 105.31 520 105.21M404.6 90.83 412.29 91.99 419.99 93.15 427.68 94.29 435.37 95.5 443.07 96.72 450.76 97.93 458.45 98.83 466.15 99.51 473.84 100.12 481.53 100.66 489.23 101.19 496.92 101.79 504.61 102.53 512.31 103.26 520 103.93M404.6 98.38 412.29 99.02 419.99 99.66 427.68 100.33 435.37 100.98 443.07 101.64 450.76 102.33 458.45 102.94 466.15 103.48 473.84 103.89 481.53 104.17 489.23 104.45 496.92 104.78 504.61 105.18 512.31 105.56 520 105.16M404.6 96.4 412.29 97.35 419.99 98.31 427.68 99.25 435.37 100.19 443.07 101.12 450.76 102.04 458.45 102.85 466.15 103.6 473.84 104.21 481.53 104.69 489.23 105.18 496.92 105.69 504.61 106.25 512.31 106.76 520 105.96M404.6 85.91 412.29 87.09 419.99 88.28 427.68 89.46 435.37 90.84 443.07 92.3 450.76 93.76 458.45 94.71 466.15 95.3 473.84 95.87 481.53 96.43 489.23 96.99 496.92 97.63 504.61 98.4 512.31 99.23 520 101.23M404.6 98.8 412.29 99.63 419.99 100.46 427.68 101.29 435.37 102.08 443.07 102.85 450.76 103.63 458.45 104.38 466.15 105.11 473.84 105.7 481.53 106.13 489.23 106.56 496.92 107.01 504.61 107.49 512.31 107.9 520 106.73M404.6 97.65 412.29 98.78 419.99 99.88 427.68 100.97 435.37 102.01 443.07 102.85 450.76 103.63 458.45 104.38 466.15 105.11 473.84 105.7 481.53 106.13 489.23 106.56 496.92 107.01 504.61 107.49 512.31 107.9 520 106.82M404.6 95.66 412.29 97.08 419.99 98.48 427.68 99.83 435.37 101.14 443.07 102.39 450.76 103.58 458.45 104.38 466.15 105.11 473.84 105.7 481.53 106.13 489.23 106.56 496.92 107.01 504.61 107.49 512.31 107.9 520 106.95M404.6 95.96 412.29 97.15 419.99 98.32 427.68 99.47 435.37 100.59 443.07 101.67 450.76 102.73 458.45 103.71 466.15 104.64 473.84 105.44 481.53 106.08 489.23 106.56 496.92 107.01 504.61 107.49 512.31 107.89 520 106.7M404.6 98.8 412.29 99.63 419.99 100.46 427.68 101.29 435.37 102.08 443.07 102.85 450.76 103.63 458.45 104.38 466.15 105.11 473.84 105.7 481.53 106.13 489.23 106.56 496.92 107.01 504.61 107.49 512.31 107.9 520 106.79M404.6 98.8 412.29 99.63 419.99 100.46 427.68 101.29 435.37 102.08 443.07 102.85 450.76 103.63 458.45 104.38 466.15 105.11 473.84 105.7 481.53 106.13 489.23 106.56 496.92 107.01 504.61 107.49 512.31 107.9 520 106.77M404.6 85.2 412.29 86.38 419.99 87.62 427.68 88.87 435.37 90.35 443.07 91.9 450.76 93.45 458.45 94.47 466.15 95.1 473.84 95.73 481.53 96.35 489.23 96.96 496.92 97.64 504.61 98.47 512.31 99.33 520 101.35M404.6 88.97 412.29 90.01 419.99 91.06 427.68 92.11 435.37 93.27 443.07 94.47 450.76 95.7 458.45 96.53 466.15 97.06 473.84 97.55 481.53 98 489.23 98.44 496.92 99 504.61 99.73 512.31 100.49 520 102.18" stroke="#368aaa" stroke-opacity="0.12" stroke-width="0.7" fill="none"/>
<rect x="403.4" y="83.8" width="1.5" height="14.95" fill="#368aaa" fill-opacity="0.9"/>
<rect x="403.4" y="98.75" width="1.5" height="15.65" fill="#c8141f" fill-opacity="0.9"/>
<path d="M596.44 117.29h0.01M595.82 118.93h0.01M598.04 112.12h0.01M595.09 104.41h0.01M599.45 115.86h0.01M588.37 119.09h0.01M595.73 118.6h0.01M589.42 113h0.01M594.83 114.47h0.01M599.33 115.72h0.01M597.1 108.81h0.01M596.5 112.57h0.01M597.31 112.68h0.01M604.06 120h0.01M592.02 112.63h0.01M600.99 119.97h0.01M590.19 114.83h0.01M594.9 109.25h0.01M597.74 122.11h0.01M593.17 111.58h0.01M597.92 116.84h0.01M600.28 120.43h0.01M591.63 113.03h0.01M596.65 110.74h0.01M595.31 118.24h0.01M588.27 115.02h0.01M596.16 110.75h0.01M593.41 111.23h0.01M603.03 113.51h0.01M593.06 117.98h0.01M604.65 113.85h0.01M594.6 116.96h0.01M605.72 120.25h0.01M599.43 118.99h0.01M599.04 119.54h0.01M600.63 118.87h0.01M601.06 109.49h0.01M603.31 118.84h0.01M604.8 115.88h0.01M595.44 114.39h0.01M591.37 111.22h0.01M584.98 109.56h0.01M595.26 111.13h0.01M600.42 114.73h0.01M598.7 110.92h0.01M597.52 112.11h0.01M595.42 112.76h0.01M594.12 117h0.01M595.72 113.83h0.01M598.75 114.32h0.01M589.06 119.18h0.01M600.28 113.74h0.01M590.44 116.78h0.01M596.29 111.31h0.01M594.14 115.89h0.01M595.34 115.19h0.01M592.29 115.38h0.01M591.8 113.26h0.01M595.95 111.4h0.01M592.1 113.81h0.01M608.05 113.26h0.01M595.11 118.21h0.01M594.02 117.8h0.01M594.5 110.83h0.01M592.15 116.87h0.01M585.92 113.22h0.01M595.82 116.31h0.01M598.37 113.21h0.01M590.2 109.94h0.01M596.99 118.15h0.01M591.52 116.29h0.01M596.81 110.76h0.01M598.58 108.56h0.01M599.15 113.04h0.01M598.92 110.9h0.01M593.8 113.6h0.01M600.93 116.85h0.01M594.95 119.65h0.01M598.54 113.62h0.01M600.13 119.35h0.01M595.59 118.64h0.01M591.18 113.37h0.01M599.72 109.3h0.01M591.93 117.62h0.01M592.95 116.81h0.01M592 122.57h0.01M600.75 119.52h0.01M596.23 117.39h0.01M586.84 120.38h0.01M600.27 111.35h0.01M606.28 115.45h0.01M605.06 113.91h0.01M594.4 120.56h0.01M597.31 116.68h0.01M599.25 104.72h0.01M600.98 119.34h0.01M597.11 111.83h0.01M592.03 117.39h0.01M600.35 113.25h0.01M599.72 115.64h0.01M590.97 116.93h0.01M595.3 115.48h0.01M598.16 111.69h0.01M596.94 119.46h0.01M599.31 116.15h0.01M600.53 114.79h0.01M599.39 117.18h0.01M596.43 113.08h0.01M590.88 121.08h0.01M599.72 115.6h0.01M603.25 116.06h0.01M605.84 116h0.01M596.8 111.85h0.01M596.78 110.98h0.01M603.45 115.58h0.01M603.42 116.02h0.01M598.48 119.3h0.01M600.15 116.35h0.01M593.52 111.27h0.01M599.57 116.6h0.01M593.22 117.59h0.01M596.29 118.17h0.01M596.38 115.96h0.01M594.83 110.83h0.01M587.43 118.7h0.01M593.22 112.45h0.01M598.44 116.76h0.01M596.66 109.67h0.01M595.16 117.39h0.01M598.87 112.27h0.01M600.04 118.44h0.01M600.75 120.68h0.01M593.3 118.72h0.01M597.03 111.01h0.01M595.43 111.74h0.01M592.98 111.99h0.01M590.19 117.05h0.01M596.48 116h0.01M593 115.38h0.01M606.62 115.88h0.01M596.48 116.77h0.01M595.91 117.01h0.01M595.14 120.43h0.01M605.37 114.67h0.01M592.69 115.52h0.01M596.2 108.73h0.01M593.46 110.48h0.01M596.36 112.56h0.01M596.76 110.93h0.01M601.87 115.57h0.01M590.55 118.27h0.01M596.83 113.4h0.01M604.2 113.23h0.01M594.63 113.14h0.01M596.13 115.26h0.01M592.93 113.03h0.01M585.14 116.23h0.01M596.45 115.81h0.01M602.21 115.96h0.01M594.82 117.34h0.01M588.61 114.92h0.01M598.12 115.29h0.01M597.28 120.62h0.01M601.43 114.66h0.01M601.02 117.44h0.01M595.71 114.98h0.01M598.72 113.29h0.01M588.83 113.29h0.01M601.94 112.09h0.01M597.76 114.84h0.01M601.81 112.8h0.01M601.71 113.4h0.01M595.63 118.82h0.01M596.25 114.36h0.01M592.99 118.56h0.01M587.62 115.67h0.01M596.33 117.64h0.01M597.61 112.78h0.01M592.04 115.28h0.01M600.13 123.49h0.01M597.37 117.52h0.01M598.96 118.1h0.01M593.46 115.56h0.01M588.98 117.62h0.01M600.42 110.95h0.01M599.67 111.98h0.01M596.43 116.2h0.01M595.03 117.49h0.01M595.68 113.43h0.01M596.31 114.16h0.01M594.63 113.58h0.01M587.87 114.16h0.01M600.45 110.81h0.01M590.2 110.04h0.01M595.43 114.5h0.01M595.54 109.03h0.01M598.1 111.53h0.01M589.66 112.58h0.01M602.36 111.28h0.01M599.88 115.54h0.01" stroke="#c8141f" stroke-opacity="0.9" stroke-width="1.4" stroke-linecap="round" fill="none"/>
<path d="M606.93 117.96h0.01M608.56 117.37h0.01M604.38 112.02h0.01M605.58 117.81h0.01M611.22 111.69h0.01M610.54 117.36h0.01M606.81 112.25h0.01M610.54 122.07h0.01M609.74 110.43h0.01M609.61 119.72h0.01M616.06 118.38h0.01M607.08 110.13h0.01M610.77 115.04h0.01M610.77 120.43h0.01M607.82 119.44h0.01M603.63 110.5h0.01M611.97 114.14h0.01M610.04 112.05h0.01M609.08 112.52h0.01M608.95 113.75h0.01M608.94 121.69h0.01M604.82 116.23h0.01M610.15 115.08h0.01M600.72 114.73h0.01M608.71 117.93h0.01M602.08 118.01h0.01M607.23 112.85h0.01M612.02 120.49h0.01M607.63 112.33h0.01M606.64 114.91h0.01M611.1 117.24h0.01M607.57 121.27h0.01M606.95 114.69h0.01M607.01 116.71h0.01M615.58 119.96h0.01" stroke="#c8141f" stroke-opacity="0.85" stroke-width="1.2" stroke-linecap="round" fill="none"/>
<path d="M486.45 111.45h0.01M486.85 112.51h0.01M486.78 114.88h0.01M486.16 113.86h0.01M486.45 112.79h0.01M486.68 113.81h0.01M485.93 114.52h0.01M487.23 112.88h0.01" stroke="#c8141f" stroke-opacity="0.8" stroke-width="1.2" stroke-linecap="round" fill="none"/>
<path d="M471.55 94.78h0.01M469.59 93.81h0.01M469.61 95.87h0.01M469.71 94.39h0.01M472.3 93.12h0.01M467.4 94.94h0.01M469.05 93.91h0.01M471.32 94.79h0.01M467.18 94.37h0.01M466.38 94.48h0.01M471.11 94.37h0.01M469.86 93.43h0.01M469.54 92.89h0.01M470.17 95.12h0.01M467.72 94.12h0.01M476.27 94.5h0.01M467.7 93.83h0.01M468.9 92.42h0.01M466.73 93.09h0.01M468.95 95.5h0.01M473.22 93.54h0.01M469.9 93.9h0.01" stroke="#368aaa" stroke-opacity="0.85" stroke-width="1.3" stroke-linecap="round" fill="none"/>
<path d="M509.7 100.17h0.01M511.11 99.1h0.01M511.34 99.07h0.01M511.57 98.49h0.01M511.79 99.67h0.01M510.95 98.24h0.01M511.04 97.82h0.01M511.88 98.27h0.01M512.38 99.38h0.01M511.69 98.15h0.01" stroke="#368aaa" stroke-opacity="0.8" stroke-width="1.2" stroke-linecap="round" fill="none"/>
<path d="M404.1 98.75 L414.59 99.9 L425.09 101.02 L435.58 102.12 L446.08 103.18 L456.57 104.21 L467.07 105.21 L477.56 106.18 L488.06 107.12 L498.55 108.03 L509.05 108.9 L519.54 109.75 L530.04 110.57 L540.53 111.35 L551.03 112.11 L561.52 112.83 L572.02 113.52 L582.51 114.18 L593.01 114.81 L603.5 115.41" stroke="#1a1a1a" stroke-width="1.1" stroke-opacity="0.95" fill="none"/>
<rect x="66" y="22.6" width="249.3" height="182.9" fill="none" stroke="#888" stroke-width="1.1"/>
<path d="M77.1 205.5V209.1M133.82 205.5V209.1M190.55 205.5V209.1M247.28 205.5V209.1M304 205.5V209.1M66 197.5H62.4M66 155.8H62.4M66 114.1H62.4M66 72.4H62.4M66 30.7H62.4" stroke="#3a3a3a" stroke-width="1.3" fill="none"/>
<text x="77.1" y="220.4" text-anchor="middle" class="tk" font-size="10.5">0</text>
<text x="133.82" y="220.4" text-anchor="middle" class="tk" font-size="10.5">5</text>
<text x="190.55" y="220.4" text-anchor="middle" class="tk" font-size="10.5">10</text>
<text x="247.28" y="220.4" text-anchor="middle" class="tk" font-size="10.5">15</text>
<text x="304" y="220.4" text-anchor="middle" class="tk" font-size="10.5">20</text>
<text x="60.4" y="201.78" text-anchor="end" class="tk" font-size="10.5">0.00</text>
<text x="60.4" y="160.08" text-anchor="end" class="tk" font-size="10.5">0.25</text>
<text x="60.4" y="118.38" text-anchor="end" class="tk" font-size="10.5">0.50</text>
<text x="60.4" y="76.68" text-anchor="end" class="tk" font-size="10.5">0.75</text>
<text x="60.4" y="34.98" text-anchor="end" class="tk" font-size="10.5">1.00</text>
<rect x="393.4" y="26.4" width="242.2" height="177.5" fill="none" stroke="#888" stroke-width="1.1"/>
<path d="M404.1 203.9V207.5M459.35 203.9V207.5M514.6 203.9V207.5M569.85 203.9V207.5M625.1 203.9V207.5M393.4 196.3H389.8M393.4 155.73H389.8M393.4 115.15H389.8M393.4 74.58H389.8M393.4 34H389.8" stroke="#3a3a3a" stroke-width="1.3" fill="none"/>
<text x="404.1" y="218.2" text-anchor="middle" class="tk" font-size="10.3">0</text>
<text x="459.35" y="218.2" text-anchor="middle" class="tk" font-size="10.3">5</text>
<text x="514.6" y="218.2" text-anchor="middle" class="tk" font-size="10.3">10</text>
<text x="569.85" y="218.2" text-anchor="middle" class="tk" font-size="10.3">15</text>
<text x="625.1" y="218.2" text-anchor="middle" class="tk" font-size="10.3">20</text>
<text x="387.7" y="200.51" text-anchor="end" class="tk" font-size="10.3">0.00</text>
<text x="387.7" y="159.93" text-anchor="end" class="tk" font-size="10.3">0.25</text>
<text x="387.7" y="119.36" text-anchor="end" class="tk" font-size="10.3">0.50</text>
<text x="387.7" y="78.78" text-anchor="end" class="tk" font-size="10.3">0.75</text>
<text x="387.7" y="38.21" text-anchor="end" class="tk" font-size="10.3">1.00</text>
<text x="190.5" y="11.9" text-anchor="middle" font-size="15" textLength="87.2" lengthAdjust="spacingAndGlyphs" class="ti" >cg25410668</text>
<text x="514.05" y="16.2" text-anchor="middle" font-size="14.6" textLength="83.5" lengthAdjust="spacingAndGlyphs" class="ti" >cg18933331</text>
<text x="190.45" y="236.4" text-anchor="middle" font-size="12.4" textLength="66.7" lengthAdjust="spacingAndGlyphs" class="ti" >age (years)</text>
<text x="514.9" y="233.6" text-anchor="middle" font-size="12.4" textLength="65.6" lengthAdjust="spacingAndGlyphs" class="ti" >age (years)</text>
<text transform="translate(32.8 113.55) rotate(-90)" text-anchor="middle" font-size="12.6" textLength="127.8" lengthAdjust="spacingAndGlyphs" class="ti">DNAm predicted (M2)</text>
<text transform="translate(361 114.8) rotate(-90)" text-anchor="middle" font-size="12.2" textLength="123.6" lengthAdjust="spacingAndGlyphs" class="ti">DNAm predicted (M2)</text>
<text x="0" y="241" font-size="16" font-weight="bold" class="ti">A.</text>
<text x="331" y="241" font-size="16" font-weight="bold" class="ti">B.</text>
<path d="M647.8 169.6H653.9" stroke="#368aaa" stroke-width="1.15"/>
<text x="659.4" y="172.4" font-size="7.5" textLength="45.5" lengthAdjust="spacingAndGlyphs" class="lg">Generation R</text>
<path d="M647.8 183.1H653.9" stroke="#c8141f" stroke-width="1.15"/>
<text x="659.4" y="185.7" font-size="7.5" textLength="29.3" lengthAdjust="spacingAndGlyphs" class="lg">ALSPAC</text>
<path d="M647.8 194.7H653.9" stroke="#1a1a1a" stroke-width="1.15"/>
<text x="659.4" y="197.3" font-size="7.5" textLength="59.4" lengthAdjust="spacingAndGlyphs" class="lg">estimated change</text>
</svg>
</body></html>
